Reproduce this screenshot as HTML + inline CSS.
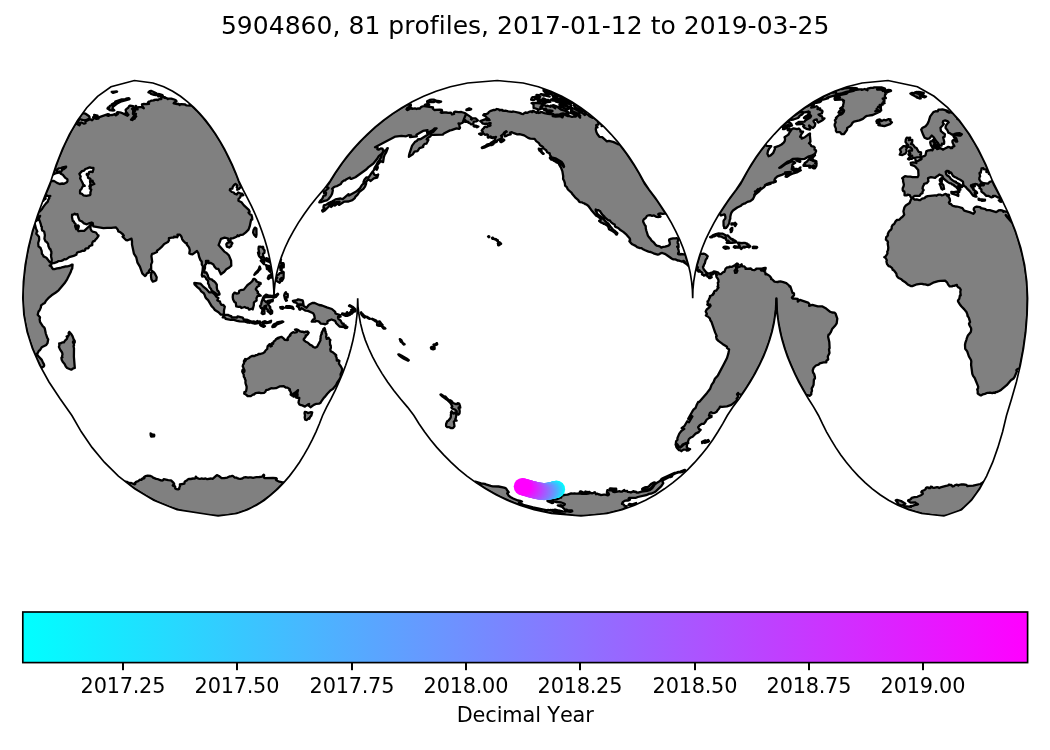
<!DOCTYPE html>
<html lang="en"><head><meta charset="utf-8"><title>5904860 float map</title>
<style>html,body{margin:0;padding:0;background:#fff}body{width:1050px;height:750px;overflow:hidden}svg{display:block;will-change:transform}text{font-family:"DejaVu Sans","Liberation Sans",sans-serif;fill:#000;font-variant-ligatures:none;font-feature-settings:"liga" 0,"clig" 0;font-kerning:none}</style></head><body>
<svg width="1050" height="750" viewBox="0 0 1050 750">
<defs><linearGradient id="cool" x1="0" y1="0" x2="1" y2="0"><stop offset="0" stop-color="#00ffff"/><stop offset="1" stop-color="#ff00ff"/></linearGradient>
<clipPath id="mapclip"><path d="M218.2,516.0L177.1,509.7L153.7,500.2L134.7,488.8L118.4,476.1L104.3,462.2L92.0,447.4L81.3,431.8L71.9,415.5L60.1,398.7L49.0,382.0L39.7,365.2L32.4,348.5L27.1,331.7L23.9,315.0L22.8,298.2L23.4,281.5L25.2,264.8L28.3,248.0L32.4,231.3L37.8,214.5L44.1,197.8L50.9,181.0L56.2,164.7L62.4,149.1L69.4,134.3L77.5,120.4L86.7,107.7L97.6,96.3L111.0,86.8L134.4,80.5L134.4,80.5L153.0,83.0L163.8,86.8L172.7,91.3L180.5,96.3L187.6,101.8L194.1,107.7L200.1,113.9L205.7,120.4L210.9,127.2L215.7,134.3L220.3,141.6L224.6,149.1L228.5,156.8L232.2,164.7L235.7,172.8L238.9,181.0L242.9,189.4L247.3,197.8L251.5,206.1L255.3,214.5L258.8,222.9L261.9,231.3L264.7,239.6L267.2,248.0L269.2,256.4L270.9,264.8L272.3,273.1L273.2,281.5L273.8,289.9L274.0,298.2L274.0,298.2L274.3,289.9L275.2,281.5L276.7,273.1L278.9,264.8L281.6,256.4L284.9,248.0L288.8,239.6L293.3,231.3L298.3,222.9L303.9,214.5L310.0,206.1L316.6,197.8L323.8,189.4L330.1,181.0L335.3,172.8L340.8,164.7L346.7,156.8L353.1,149.1L359.9,141.6L367.2,134.3L375.0,127.2L383.3,120.4L392.2,113.9L401.8,107.7L412.2,101.8L423.6,96.3L436.1,91.3L450.4,86.8L467.6,83.0L497.3,80.5L497.3,80.5L523.2,83.0L538.3,86.8L550.8,91.3L561.8,96.3L571.7,101.8L580.8,107.7L589.2,113.9L597.0,120.4L604.3,127.2L611.1,134.3L617.5,141.6L623.4,149.1L629.0,156.8L634.2,164.7L639.1,172.8L643.5,181.0L649.1,189.4L655.4,197.8L661.1,206.1L666.5,214.5L671.4,222.9L675.8,231.3L679.7,239.6L683.1,248.0L686.0,256.4L688.4,264.8L690.3,273.1L691.6,281.5L692.4,289.9L692.7,298.2L692.7,298.2L692.9,289.9L693.7,281.5L695.1,273.1L696.9,264.8L699.3,256.4L702.2,248.0L705.6,239.6L709.6,231.3L714.0,222.9L718.8,214.5L724.2,206.1L730.0,197.8L736.2,189.4L741.8,181.0L746.3,172.8L751.1,164.7L756.3,156.8L761.9,149.1L767.8,141.6L774.2,134.3L781.0,127.2L788.3,120.4L796.1,113.9L804.5,107.7L813.6,101.8L823.5,96.3L834.5,91.3L847.0,86.8L862.1,83.0L888.0,80.5L888.0,80.5L917.4,86.8L934.1,96.3L947.7,107.7L959.3,120.4L969.4,134.3L978.2,149.1L985.8,164.7L992.5,181.0L1001.0,197.8L1008.9,214.5L1015.5,231.3L1020.8,248.0L1024.6,264.8L1026.8,281.5L1027.6,298.2L1027.1,315.0L1025.8,331.7L1023.5,348.5L1020.4,365.2L1016.4,382.0L1011.6,398.7L1006.5,415.5L1002.6,431.8L997.9,447.4L992.7,462.2L986.6,476.1L979.7,488.8L971.5,500.2L961.5,509.7L943.9,516.0L943.9,516.0L921.6,513.5L908.7,509.7L898.0,505.2L888.6,500.2L880.1,494.7L872.3,488.8L865.1,482.6L858.4,476.1L852.1,469.3L846.3,462.2L840.8,454.9L835.7,447.4L831.0,439.7L826.5,431.8L822.4,423.7L818.5,415.5L813.7,407.1L808.4,398.7L803.4,390.4L798.8,382.0L794.7,373.6L790.9,365.2L787.5,356.9L784.6,348.5L782.1,340.1L780.1,331.7L778.5,323.4L777.3,315.0L776.6,306.6L776.4,298.2L776.4,298.2L776.1,306.6L775.3,315.0L774.0,323.4L772.1,331.7L769.7,340.1L766.8,348.5L763.4,356.9L759.5,365.2L755.1,373.6L750.2,382.0L744.9,390.4L739.1,398.7L732.9,407.1L727.3,415.5L722.8,423.7L717.9,431.8L712.8,439.7L707.2,447.4L701.2,454.9L694.9,462.2L688.0,469.3L680.8,476.1L672.9,482.6L664.5,488.8L655.5,494.7L645.5,500.2L634.6,505.2L622.1,509.7L607.0,513.5L581.0,516.0L581.0,516.0L551.4,513.5L534.1,509.7L519.8,505.2L507.3,500.2L496.0,494.7L485.6,488.8L476.0,482.6L467.0,476.1L458.7,469.3L450.9,462.2L443.7,454.9L436.8,447.4L430.5,439.7L424.5,431.8L419.0,423.7L413.9,415.5L407.5,407.1L400.4,398.7L393.8,390.4L387.6,382.0L382.1,373.6L377.0,365.2L372.6,356.9L368.7,348.5L365.3,340.1L362.6,331.7L360.5,323.4L359.0,315.0L358.0,306.6L357.7,298.2L357.7,298.2L357.5,306.6L357.0,315.0L356.0,323.4L354.7,331.7L353.0,340.1L350.9,348.5L348.5,356.9L345.7,365.2L342.5,373.6L339.0,382.0L335.2,390.4L331.1,398.7L326.6,407.1L322.6,415.5L319.4,423.7L316.0,431.8L312.3,439.7L308.3,447.4L304.0,454.9L299.5,462.2L294.6,469.3L289.4,476.1L283.8,482.6L277.8,488.8L271.3,494.7L264.3,500.2L256.4,505.2L247.5,509.7L236.7,513.5L218.2,516.0Z"/></clipPath></defs>
<rect width="1050" height="750" fill="#fff"/>
<text x="525.2" y="34.2" font-size="25" text-anchor="middle" letter-spacing="0.035">5904860, 81 profiles, 2017-01-12 to 2019-03-25</text>
<g clip-path="url(#mapclip)">
<path d="M35.1,225.3L35.9,228.4L37.3,231.5L36.7,232.0L36.3,233.8L39.0,236.8L39.2,239.6L38.2,243.0L38.5,246.3L40.6,248.0L41.7,251.2L41.9,253.8L43.1,255.2L43.5,256.4L46.4,257.8L49.7,262.0L50.9,262.8L51.5,263.7L51.3,264.8L49.6,265.5L51.6,266.8L52.0,267.9L53.1,269.1L54.5,269.1L57.1,268.4L60.1,268.0L62.6,267.2L64.0,267.0L65.0,266.5L67.5,266.3L70.2,265.6L71.6,264.7L72.6,264.7L72.2,268.6L71.5,269.6L70.5,272.6L67.1,279.3L64.5,283.3L58.6,290.3L55.8,292.5L51.6,295.3L48.3,298.2L22.8,298.2L23.0,288.5L23.6,278.8L24.6,269.1L26.1,259.4L27.6,251.0L29.8,241.3L32.0,233.0L34.8,223.3ZM240.0,187.6L239.1,188.9L237.2,189.7L237.7,188.4L236.7,187.3L237.3,185.4L235.5,184.0L234.1,185.0L232.7,186.9L232.3,188.7L230.2,188.8L229.8,190.1L231.8,192.0L233.8,192.5L234.5,193.7L236.7,194.5L238.2,192.5L240.7,193.6L242.2,193.7L243.3,195.2L240.5,196.0L240.2,197.5L238.6,198.9L238.4,200.8L241.5,202.3L243.7,205.1L248.8,209.8L249.7,211.9L248.5,212.6L249.7,214.1L251.5,215.0L252.1,217.3L252.3,219.5L251.1,219.7L249.7,226.4L248.5,229.7L245.8,232.3L242.9,234.7L240.1,235.0L238.8,236.2L237.7,235.3L236.6,236.7L233.3,238.1L230.7,238.5L230.5,241.5L229.1,241.6L227.9,239.6L228.3,238.5L224.6,237.6L221.0,238.8L218.6,245.1L224.3,251.6L227.0,253.4L229.0,255.6L231.1,260.8L231.3,265.7L229.3,267.5L226.3,269.3L224.3,271.7L220.9,274.2L218.4,269.0L216.1,268.6L214.8,267.1L213.1,264.2L210.5,262.9L208.2,263.0L208.4,260.8L206.0,260.8L206.1,263.9L205.0,265.1L205.0,268.0L204.3,270.3L204.6,272.5L206.4,272.5L207.7,275.1L208.4,277.5L210.0,279.1L211.7,279.4L213.2,280.9L213.9,281.1L215.6,282.8L216.8,284.7L216.8,287.8L217.4,290.5L218.4,291.2L219.5,293.7L219.5,294.6L217.5,294.8L211.5,290.5L211.1,289.1L209.5,287.3L209.0,284.9L208.0,283.4L208.2,281.4L207.5,280.2L206.3,279.1L205.8,277.8L204.2,276.2L202.2,276.5L201.8,274.9L202.6,270.5L202.9,266.3L201.8,264.7L201.7,261.6L200.5,260.2L199.1,256.8L198.4,253.3L197.0,251.0L192.5,254.4L191.0,254.2L189.3,253.5L189.8,250.0L189.0,247.4L186.6,244.2L186.8,243.2L185.2,242.8L183.1,240.6L182.1,239.1L181.8,237.7L181.2,236.3L179.9,234.7L177.5,234.6L177.9,235.8L177.2,237.3L176.1,236.7L175.8,237.2L174.0,236.7L173.7,237.7L171.9,237.7L168.9,238.2L169.0,240.4L167.9,242.0L164.2,243.9L161.4,247.2L159.5,248.9L157.0,250.7L157.0,252.0L153.3,253.7L152.1,253.9L151.4,256.0L152.2,261.9L151.1,264.6L151.2,269.3L149.8,269.5L148.6,271.6L149.4,272.5L146.9,273.3L146.0,275.2L144.9,276.0L142.3,273.4L139.9,266.7L137.5,262.7L136.3,257.4L133.9,253.6L132.0,244.6L132.0,241.3L131.5,238.6L127.7,240.3L125.9,240.0L122.6,236.6L123.8,235.6L123.1,234.5L120.2,232.1L118.3,231.4L117.7,229.4L115.8,227.3L111.2,227.8L107.1,227.9L103.5,228.2L93.3,226.4L92.7,223.0L91.6,222.5L89.6,223.0L86.9,224.3L84.0,223.4L81.8,221.3L79.6,220.5L78.4,217.8L77.4,214.1L76.0,214.5L74.7,213.6L73.5,214.7L72.1,214.6L72.0,217.3L72.8,221.0L73.9,221.6L74.1,222.6L75.6,223.8L75.5,224.9L75.1,225.8L75.3,226.8L76.3,229.2L76.5,227.1L77.4,225.7L78.2,225.4L78.8,226.2L78.5,227.9L77.7,229.5L78.5,231.2L80.5,230.8L84.2,230.9L91.0,224.6L91.3,224.8L90.5,226.5L90.5,228.7L91.4,230.6L92.7,231.6L96.0,232.5L97.6,235.0L98.5,235.4L98.4,236.0L96.8,238.4L95.7,239.3L94.5,241.2L93.3,241.1L92.8,241.8L92.2,243.2L92.3,245.0L92.0,245.4L90.8,245.4L89.1,246.4L88.7,247.8L88.0,248.3L86.4,248.3L85.3,249.0L85.2,250.2L83.8,250.9L82.4,250.7L80.5,251.6L79.2,251.8L77.2,252.5L76.6,253.8L76.4,254.7L73.6,255.9L69.2,257.2L66.5,259.2L65.3,259.3L64.5,259.1L62.8,260.3L61.1,260.8L58.1,261.2L57.4,261.9L53.9,263.1L52.0,263.0L51.5,261.4L51.8,259.8L51.2,256.9L51.0,254.4L51.4,253.8L51.3,251.4L50.7,250.6L50.6,249.5L49.4,248.5L48.9,247.3L48.4,246.1L48.1,243.9L46.7,242.0L45.6,241.5L44.4,238.8L44.9,235.2L44.3,232.1L43.4,231.0L42.2,230.5L41.8,228.9L41.8,226.8L41.2,226.2L40.8,224.1L39.3,219.9L38.1,219.9L40.1,215.9L39.0,217.0L37.8,219.1L36.7,220.6L36.0,221.1L35.7,220.6L38.7,211.8L40.2,211.1L42.2,208.7L43.5,206.6L45.8,203.6L47.8,201.6L48.4,199.4L49.3,198.3L49.0,197.0L50.3,196.0L48.8,196.2L47.2,195.5L45.0,197.2L44.3,197.2L49.6,185.0L50.9,181.0L53.9,180.9L57.0,182.9L59.7,184.0L62.3,183.5L64.0,183.8L66.9,182.3L67.5,181.1L67.4,179.2L65.4,177.9L62.8,174.8L60.8,173.7L59.6,172.1L61.2,171.7L62.7,168.4L63.5,169.4L66.0,167.3L66.1,166.7L62.6,167.3L61.0,168.2L59.0,168.3L57.0,169.4L56.6,171.0L57.3,171.7L59.5,171.5L58.8,172.5L56.4,173.0L53.1,174.5L52.9,174.4L58.6,158.4L64.5,144.3L71.2,131.0L78.0,119.6L78.8,120.6L77.0,124.0L79.3,125.3L80.1,124.2L79.8,123.2L81.2,122.3L84.0,123.7L85.5,123.2L85.4,121.5L89.9,119.3L91.1,119.5L92.1,120.2L93.6,118.7L93.1,117.4L94.4,116.1L94.2,114.8L97.5,115.5L97.7,116.7L95.9,116.9L95.3,118.2L96.1,118.9L98.4,118.5L99.4,117.1L108.0,114.2L109.0,114.3L107.2,115.6L108.8,115.8L110.0,115.1L112.5,115.0L114.7,114.1L115.9,115.4L117.8,114.0L116.7,112.8L117.5,112.1L121.2,112.7L122.9,113.4L127.4,115.8L128.4,114.7L127.1,113.6L127.2,113.1L125.6,112.9L126.2,111.9L125.7,110.3L125.7,109.6L128.2,107.8L129.2,106.0L130.1,105.6L133.1,106.1L133.3,107.2L132.1,108.9L132.9,109.5L133.2,111.0L132.9,113.8L134.3,115.1L133.7,116.6L131.0,119.7L132.6,120.0L133.1,119.2L134.7,118.7L135.0,117.6L136.2,116.5L135.4,115.3L136.0,113.9L134.6,113.7L134.2,112.5L135.3,110.5L133.7,108.8L135.8,107.4L135.5,106.0L136.1,106.0L136.7,107.1L136.3,109.0L137.6,109.4L137.0,107.9L139.0,107.1L141.4,107.0L143.8,108.2L142.5,106.5L142.0,104.4L143.9,104.0L146.6,104.1L149.0,103.8L147.8,102.8L148.6,101.6L149.8,101.5L151.5,100.6L154.1,100.3L154.2,99.8L156.8,99.6L157.9,100.1L159.5,99.1L161.4,99.1L161.1,98.3L161.5,97.6L163.1,96.8L165.2,97.4L164.3,97.8L166.7,98.1L167.8,99.0L168.3,98.6L171.2,98.6L174.3,99.5L175.8,100.2L176.5,101.2L174.0,102.8L173.7,103.3L177.3,104.1L178.0,103.7L179.7,105.0L179.7,104.5L181.2,104.2L185.1,104.5L186.3,105.4L191.4,105.7L189.9,104.2L190.5,104.3L196.7,110.3L203.5,117.7L209.6,125.5L215.4,133.7L220.7,142.2L226.2,152.2L232.5,165.3L236.5,174.7L240.1,184.3L241.6,187.1ZM84.1,170.6L82.0,171.1L79.4,173.9L80.7,176.5L80.1,178.3L82.6,183.0L83.3,185.0L84.2,185.1L84.7,185.9L82.9,186.1L81.3,189.3L80.3,189.9L80.0,191.3L80.1,193.4L82.1,193.9L83.3,195.3L86.4,195.8L90.0,195.1L90.4,194.4L90.4,192.4L91.3,189.5L89.8,188.6L90.8,186.7L89.4,186.5L90.4,184.1L92.3,184.8L94.3,184.0L93.0,182.3L92.6,180.7L90.9,181.4L90.3,183.4L90.0,181.0L90.6,179.8L90.4,178.9L88.1,177.9L87.7,175.4L86.7,174.8L86.8,173.9L88.7,174.1L89.1,172.1L90.9,171.7L92.6,172.1L93.4,169.5L93.4,167.8L91.4,167.9L89.8,167.3L87.3,168.4L85.3,169.0ZM82.4,113.2L85.6,113.7L89.1,116.2L89.6,117.2L88.9,118.7L86.7,119.8L84.0,120.4L78.5,118.8ZM156.3,280.2L155.2,280.9L152.8,281.6L151.4,279.4L150.9,275.4L152.0,270.8L154.0,272.4L155.3,274.4L156.7,277.3ZM256.5,234.6L256.1,236.9L254.0,234.6L253.1,232.5L253.6,229.8L254.9,227.6L256.4,228.5ZM229.2,247.5L226.8,246.6L226.3,244.2L227.3,242.9L230.0,242.1L231.5,242.2L232.4,243.3L231.5,244.5L231.2,246.1ZM115.4,92.2L113.0,92.9L112.5,92.5L113.4,92.0L111.7,91.9L114.7,91.6L114.5,92.0L116.2,91.4L117.1,91.7ZM128.8,99.5L121.6,101.3L117.7,103.1L112.9,106.9L112.5,108.6L114.3,110.3L113.4,110.5L109.5,110.2L109.5,109.3L107.5,108.7L107.9,107.6L109.3,107.2L109.7,106.1L112.7,104.4L111.8,104.2L115.2,102.5L115.2,101.6L121.8,99.4L125.2,99.1L127.1,98.4L129.0,98.2L129.6,98.9ZM158.1,94.2L158.6,94.0L159.4,94.1L162.5,95.1L162.8,95.8L158.2,96.4ZM153.2,91.7L156.4,93.2L157.4,94.8L155.7,95.0L152.9,94.5L151.0,93.8L149.7,92.7L148.4,92.3L149.7,91.2L151.1,90.9ZM45.6,198.7L43.6,199.9L43.5,200.6L42.9,200.9L43.4,199.5ZM260.7,295.7L257.4,296.1L256.5,298.2L232.9,298.2L232.7,297.1L233.0,294.5L234.6,292.6L236.7,293.6L238.8,293.1L239.3,290.7L240.5,290.2L243.8,289.6L247.0,285.6L248.0,284.6L250.3,283.0L252.3,281.1L253.5,278.9L254.6,278.9L256.2,280.3L256.4,281.5L260.7,283.1L260.6,284.2L258.7,284.4L259.3,285.7L257.3,286.7L255.8,289.2L258.0,291.9L257.6,293.1ZM205.6,297.7L204.8,295.3L203.8,293.2L201.2,291.4L199.7,289.0L197.6,287.4L194.6,284.4L194.3,283.0L200.4,283.6L203.0,286.3L206.7,289.4L209.4,292.4L212.3,292.4L214.7,294.3L216.3,296.7L218.4,298.0L218.3,298.2L206.2,298.2ZM268.2,295.4L271.7,295.8L274.0,295.7L274.0,297.5L271.1,297.0L266.5,297.2L264.0,297.6L263.9,298.2L262.9,298.2L263.6,296.7L266.0,294.6ZM262.2,247.4L262.8,246.7L263.3,247.4L263.1,248.5L264.6,250.5L264.4,252.9L263.0,253.8L263.1,256.0L264.2,258.3L265.7,258.6L266.8,258.2L269.9,259.5L270.6,262.7L269.2,261.9L267.9,260.4L267.4,261.4L265.3,259.8L263.0,260.2L261.5,259.6L261.4,258.4L262.1,257.7L261.1,257.1L261.0,258.1L259.3,256.5L258.7,255.2L258.0,252.6L259.3,253.5L258.5,249.1L258.8,246.6L260.4,246.6ZM272.3,276.4L271.6,277.5L270.3,277.4L268.4,279.0L267.8,278.2L268.7,275.8L270.3,275.0L271.7,274.0L272.5,274.9L272.7,276.7ZM258.9,270.3L257.7,272.2L254.3,274.9L255.5,272.9L257.3,271.2L258.6,269.3L259.7,266.5L260.5,268.8ZM264.0,264.2L260.8,260.7L263.2,260.8L264.3,261.8ZM267.7,265.9L269.4,265.9L269.6,267.1L268.5,268.3L266.9,269.1L266.6,266.4L265.9,265.1ZM270.6,269.6L270.3,272.0L268.7,270.4L269.3,269.6L269.3,267.9L270.8,267.7ZM687.8,265.3L686.9,264.4L683.9,262.2L684.1,261.8L684.6,262.2L684.8,262.0L684.1,261.1L683.2,260.9L683.1,261.5L681.5,261.5L679.1,260.7L677.6,260.5L676.6,259.9L675.1,259.4L673.4,259.4L672.0,258.8L666.3,254.7L664.7,253.8L662.3,253.0L660.8,253.2L659.0,254.3L657.7,254.6L653.5,253.3L650.6,252.0L648.5,251.6L645.1,250.3L642.5,249.0L641.6,248.2L640.0,248.1L637.1,247.2L635.6,245.9L632.3,244.3L630.5,242.6L629.4,241.2L630.2,240.9L629.7,240.1L630.1,239.4L629.8,238.5L626.5,234.7L623.3,231.9L620.0,229.7L618.2,228.0L615.6,226.9L614.9,226.2L614.7,224.5L613.1,223.8L611.2,222.4L609.8,220.5L608.4,220.3L604.8,217.4L604.4,216.6L602.3,214.5L600.6,212.3L600.2,211.3L598.1,210.1L597.3,210.3L595.7,209.5L595.7,210.6L597.6,214.1L602.5,218.0L603.1,219.0L603.5,218.9L604.7,220.7L606.6,222.4L608.6,223.8L610.4,226.4L612.6,228.9L613.3,230.4L614.5,230.5L617.3,233.0L617.4,233.5L616.7,234.6L616.2,234.6L615.0,232.9L612.8,231.3L609.0,229.2L608.4,227.2L607.5,225.7L603.9,223.5L603.7,223.9L602.8,223.2L601.1,222.5L599.1,220.9L599.2,220.7L600.3,220.8L600.8,219.8L600.5,218.5L597.9,216.5L596.2,215.7L591.2,209.9L588.4,206.0L586.3,204.4L585.1,204.1L584.6,203.3L583.2,203.1L582.1,202.4L579.9,202.1L579.1,201.6L578.3,200.1L575.1,197.3L571.9,193.4L571.7,192.8L567.9,189.5L566.8,187.2L565.1,185.7L564.9,183.4L564.2,181.0L563.1,178.9L563.2,176.3L562.4,171.4L561.1,167.8L558.9,164.2L559.0,163.7L562.1,164.6L563.8,167.1L564.1,166.4L563.2,164.2L561.8,162.1L555.4,158.3L551.6,157.3L549.9,154.9L549.7,153.4L547.1,152.3L546.2,150.2L543.5,148.4L543.1,147.1L541.8,146.1L540.0,145.3L538.9,143.1L536.2,141.1L534.6,138.8L530.3,138.6L528.1,137.9L524.2,135.4L519.5,134.1L517.3,134.3L513.9,133.2L511.9,132.2L510.2,132.7L510.7,134.3L508.0,135.0L506.6,135.8L504.8,136.3L504.5,134.9L505.0,132.5L506.7,131.8L506.2,131.2L504.3,132.5L503.2,134.1L501.0,135.8L502.2,137.0L500.7,138.7L497.2,140.5L496.8,141.6L494.0,142.9L493.5,144.1L491.4,145.1L490.2,145.0L485.1,147.3L482.0,148.1L481.8,147.6L485.6,145.7L487.6,144.3L489.8,144.0L490.7,143.0L493.1,141.5L494.8,140.2L495.1,138.3L496.0,136.9L494.1,137.6L493.5,137.2L492.6,138.1L491.5,136.9L491.1,137.7L490.5,136.5L488.8,137.5L487.8,137.5L487.7,136.0L488.1,135.2L487.1,134.3L484.9,134.8L483.7,133.6L482.6,133.1L482.8,131.7L481.7,130.7L482.5,129.4L483.9,128.1L484.6,126.9L485.9,126.7L486.9,127.1L488.2,126.0L489.3,126.1L490.5,125.4L490.3,124.4L489.5,124.0L490.6,123.1L489.7,123.1L488.1,123.6L487.6,124.1L486.5,123.6L484.4,123.9L482.3,123.3L481.8,122.4L480.3,121.1L485.7,119.1L486.9,119.1L486.6,120.2L489.6,120.1L488.6,118.8L486.9,117.9L486.1,116.8L485.0,115.9L483.2,115.2L484.2,114.1L486.5,114.0L488.3,113.1L488.7,112.1L490.2,111.1L493.8,109.9L495.0,110.1L496.9,109.0L498.7,109.4L499.7,110.3L500.2,109.9L502.3,110.0L502.3,110.5L504.2,110.9L505.5,110.7L508.2,111.3L511.7,111.8L513.3,111.5L519.5,112.9L521.9,113.9L523.3,114.1L524.1,113.2L525.4,112.5L527.5,112.8L529.0,111.9L530.8,111.4L532.1,112.2L532.8,111.7L532.6,110.8L533.6,111.0L536.8,112.9L537.6,111.4L538.8,113.0L540.2,112.7L540.2,112.1L541.9,112.2L544.4,113.1L548.0,113.9L550.1,114.2L551.3,114.1L553.9,115.2L552.8,116.2L555.6,116.7L559.0,116.4L559.9,116.1L562.4,117.4L563.0,116.3L560.8,115.3L561.1,114.6L563.5,114.3L567.4,116.0L568.7,115.8L572.1,116.8L573.8,116.4L575.9,116.5L574.4,115.2L575.2,114.8L578.0,115.5L580.1,117.6L579.2,115.8L580.3,115.9L578.6,113.7L573.2,111.6L570.7,109.3L570.3,107.8L572.3,108.1L574.7,109.0L579.3,111.4L579.4,112.4L582.3,112.8L584.9,115.0L584.6,113.3L587.9,114.7L589.4,116.3L592.4,117.8L591.9,116.0L597.3,120.6L598.5,123.1L598.4,124.7L596.4,124.8L596.2,125.8L597.5,127.3L596.0,127.6L595.8,129.5L596.4,132.1L597.3,134.0L599.4,136.8L602.2,137.2L606.9,141.4L609.0,140.9L613.0,141.9L615.5,142.9L617.7,144.1L620.0,144.7L626.7,153.5L633.7,164.0L639.4,173.4L645.2,184.4L656.7,199.7L665.9,213.6L665.4,213.4L662.9,213.8L660.6,213.5L658.9,213.6L658.2,214.1L659.0,214.8L659.6,215.9L660.5,216.5L660.2,216.9L659.1,216.4L658.5,217.0L656.6,216.9L654.0,215.4L652.1,215.8L650.0,215.1L648.6,215.3L646.9,216.0L645.7,218.0L643.9,219.2L643.2,220.6L643.2,221.8L644.8,225.1L645.7,226.0L645.8,228.5L646.3,230.5L647.9,235.6L648.9,237.1L650.2,238.5L651.6,240.6L654.0,242.7L655.2,244.3L656.7,245.7L659.8,246.4L661.3,247.6L663.3,246.8L665.2,246.6L668.5,245.6L669.8,244.4L669.8,242.8L669.1,240.4L669.2,239.6L670.7,238.9L673.1,238.3L675.5,238.4L676.9,238.1L677.8,238.7L678.3,240.1L677.6,241.7L677.7,243.4L678.4,243.9L678.6,247.3L677.7,246.6L677.1,246.6L677.3,247.0L677.8,247.0L678.1,247.8L678.1,249.0L678.4,249.4L678.9,252.1L678.7,252.8L678.2,252.9L678.0,253.9L679.1,254.4L679.1,254.0L680.4,254.5L680.8,254.0L683.6,254.3L685.2,254.0L688.7,266.0ZM565.8,99.1L563.8,99.0L562.1,98.2L563.1,97.8L560.3,96.5L560.6,96.3L562.7,96.7L567.5,99.3ZM561.1,96.0L559.0,95.6L558.3,95.0L558.7,94.8L561.3,96.1ZM555.4,93.3L553.1,92.5L553.7,92.5L555.8,93.4ZM551.6,92.0L549.0,91.5L543.5,89.9L543.8,89.6L545.2,89.3L545.0,89.0L552.6,92.0ZM584.7,111.2L582.3,110.9L580.3,110.2L580.3,109.2L578.6,109.2L575.4,107.2L573.8,105.4L573.8,104.6L575.6,104.2L586.1,111.5ZM545.8,106.4L547.8,105.7L550.4,106.8L550.7,105.7L552.4,106.4L555.3,108.4L555.1,107.5L552.2,105.5L552.9,105.2L554.4,105.5L556.5,106.3L561.2,109.7L567.7,111.7L568.5,112.6L566.5,112.8L568.2,113.6L568.5,114.4L563.0,113.5L561.6,113.6L559.7,114.3L554.4,114.9L553.0,113.9L550.7,113.3L549.7,113.5L546.9,111.8L549.3,111.3L551.2,111.4L552.5,111.0L549.7,110.5L545.3,110.6L544.1,109.9L546.3,109.1L544.4,109.1L541.9,108.5L541.8,107.0L541.9,106.2L544.0,105.0L545.5,105.4ZM535.1,102.8L536.9,103.2L539.8,103.3L543.3,104.7L542.4,105.2L540.7,106.6L540.3,108.0L540.9,108.9L538.3,109.9L537.1,109.0L533.6,107.9L533.5,104.3L531.6,103.1ZM546.9,100.2L547.5,99.9L548.6,100.0L549.9,100.9L550.4,101.8L547.1,102.1L545.3,102.9L543.7,102.9L542.9,102.3L544.2,101.5L539.7,101.7L537.9,101.4L537.5,99.5L537.9,99.0L541.4,99.6L544.5,100.7L546.5,100.9L542.9,99.1L543.0,98.5L544.3,98.7ZM554.4,98.8L556.1,99.4L557.6,100.4L559.1,101.8L557.6,102.0L556.0,101.7L554.6,100.6L553.1,100.7L551.1,99.3L552.2,99.3L552.8,98.7L553.7,99.9ZM536.2,98.3L536.1,98.9L535.3,99.0L534.2,99.8L532.8,100.1L531.1,99.7L531.6,98.3L532.4,97.2L533.9,97.2L534.9,96.9ZM542.8,94.3L546.1,94.9L549.7,96.5L545.5,95.7L543.4,95.6L543.5,95.1L541.8,94.7L540.7,94.1ZM571.2,107.6L569.7,107.5L566.8,105.8L565.5,104.8L565.0,104.0L565.3,103.4L567.7,103.5L570.5,104.0L571.3,105.7L570.5,106.1ZM561.5,104.4L563.1,104.2L564.2,104.7L564.3,105.7L567.1,106.5L569.2,108.3L568.1,109.1L566.7,109.0L560.3,106.6L559.6,106.0L562.2,106.2L559.4,104.9L559.6,104.0ZM564.5,102.6L562.7,102.4L560.7,101.9L560.0,101.1L560.8,100.6L564.0,101.8ZM558.8,98.5L560.7,98.5L562.6,99.1L563.5,99.8L566.7,100.6L570.1,100.8L573.6,102.9L571.6,102.9L565.6,102.1L562.1,100.1L559.8,99.3L557.4,99.1L555.4,98.5L554.6,97.8L556.7,97.9ZM554.8,96.6L556.3,97.1L554.0,97.1L552.9,96.6ZM556.6,93.8L557.4,94.1L557.3,94.5L558.3,95.8L556.9,95.9L554.6,95.7L552.4,95.0L551.2,94.4L551.0,93.9L549.5,93.9L545.5,92.6L544.2,91.4L544.7,91.3L543.6,90.9L545.2,90.8L548.1,91.7L552.2,92.4ZM601.6,126.0L601.7,124.8L600.4,123.5L602.9,125.8ZM571.0,112.4L570.9,111.5L574.1,112.4L576.6,113.6L576.6,114.4L574.1,113.7L573.3,114.0L570.5,113.0ZM552.1,158.0L555.2,158.6L557.4,160.8L559.7,161.9L560.9,163.4L560.1,163.7L556.5,162.5L555.7,161.6L553.7,160.7L553.1,159.9L551.1,159.5L549.9,158.0L549.9,157.4ZM539.7,149.0L541.4,148.8L541.6,151.7L543.7,153.8L543.0,153.8L541.6,152.6L540.6,151.4L539.5,150.6L538.9,149.5L538.8,148.7ZM501.2,142.2L500.3,141.6L500.0,140.4L502.4,139.2L503.5,139.4L504.3,140.1L502.8,141.3ZM498.8,245.4L498.1,245.1L498.2,244.3L497.8,243.3L498.3,242.5L498.2,242.0L498.3,241.7L500.0,242.5L501.1,243.8ZM496.9,240.8L496.1,240.0L496.4,239.6L497.9,240.3L497.7,240.6ZM493.5,238.9L492.4,238.8L492.0,238.0L492.7,237.6L493.6,238.7ZM489.0,237.2L488.1,236.6L488.6,236.2L489.2,236.3L489.3,236.9ZM495.9,239.4L494.5,239.4L494.7,239.0L496.0,239.1ZM474.9,125.8L475.8,125.6L477.0,126.2L478.4,126.5L477.0,127.3L475.4,126.3L474.1,126.5L473.7,126.3L474.0,125.4ZM481.0,134.9L479.1,133.8L480.8,133.4L482.1,133.6L482.1,134.5ZM540.1,96.3L540.4,96.8L539.3,97.3L537.2,96.8L537.3,96.2L538.4,96.0ZM538.8,95.2L538.2,95.6L536.7,95.6L536.4,95.3L536.6,94.8ZM409.0,104.6L410.8,104.5L410.9,105.6L409.4,106.9L407.4,107.7L406.5,109.3L407.2,110.1L411.5,108.0L412.1,108.9L415.0,108.3L416.5,109.0L418.1,108.4L419.7,108.7L421.3,106.8L424.0,106.0L433.0,107.3L432.7,108.4L434.3,110.0L439.7,109.6L441.8,110.0L442.1,110.8L440.7,112.4L441.8,112.9L443.9,112.5L446.2,112.5L448.3,112.9L450.9,112.6L452.0,114.5L454.1,113.9L453.8,112.5L455.0,111.6L458.7,112.1L461.4,112.0L464.7,113.0L468.7,115.6L471.5,117.7L471.0,119.1L471.7,119.6L471.9,118.1L475.6,118.4L477.8,120.4L476.2,121.4L473.8,121.6L473.2,123.9L472.5,124.3L471.1,124.3L470.2,123.5L468.4,122.8L468.4,121.8L467.1,121.5L465.3,121.8L464.8,121.0L465.4,120.2L463.5,120.7L463.8,121.7L462.6,122.7L460.3,123.7L458.5,123.5L459.3,124.7L459.5,126.6L460.0,127.3L459.9,128.2L459.2,128.8L456.5,128.3L451.5,130.1L450.0,130.4L443.9,133.5L442.8,134.6L433.8,134.9L431.7,134.6L430.4,136.2L427.2,138.5L426.7,139.5L428.4,140.0L426.4,143.7L424.8,143.8L423.0,145.8L423.3,146.9L419.5,148.2L417.5,151.1L414.5,151.7L412.7,154.4L408.9,156.8L409.1,155.0L409.6,153.1L412.1,145.6L414.8,142.1L417.1,140.7L417.8,139.5L420.8,139.0L429.6,133.5L433.6,131.6L436.6,128.3L434.7,128.4L432.6,130.4L427.1,133.0L427.5,130.1L423.0,130.9L416.4,134.8L416.8,136.3L410.0,137.2L411.2,135.5L409.0,135.1L406.1,136.3L401.4,135.9L395.4,136.6L375.0,147.2L377.6,147.6L377.3,149.1L378.6,149.7L380.7,148.5L382.5,148.6L383.3,151.4L381.9,153.6L378.8,156.2L376.8,159.3L373.4,163.5L368.2,167.4L366.5,169.2L355.4,177.2L351.8,178.8L350.5,178.8L349.9,177.5L346.0,179.5L345.2,180.4L344.5,180.3L343.0,181.2L341.9,182.1L340.9,184.1L337.1,186.1L335.3,186.5L333.7,187.3L332.1,188.8L332.6,189.3L332.8,190.5L332.1,193.8L331.2,195.6L328.8,198.8L326.8,200.3L324.3,200.9L321.6,202.0L319.3,202.3L320.2,200.8L322.3,198.7L323.6,195.7L325.6,195.3L326.1,192.9L325.5,192.4L324.8,192.9L323.9,193.1L324.3,192.6L323.7,191.9L326.2,190.3L326.4,189.8L328.3,188.3L328.5,187.9L327.2,186.8L325.8,187.1L328.2,184.3L334.9,173.3L342.3,162.6L349.4,153.5L357.1,144.6L364.1,137.3L370.4,131.3L377.0,125.5L384.0,119.9L392.9,113.4L400.9,108.2L407.6,104.3ZM337.3,203.9L334.9,205.6L334.5,204.7L332.9,205.3L331.1,207.0L330.2,206.2L331.1,204.9L333.5,203.2L334.6,203.5L336.3,202.3L337.7,202.9ZM355.3,196.8L354.8,198.2L352.4,200.2L348.6,201.5L344.5,201.6L339.0,204.9L338.2,203.8L339.5,201.7L335.1,202.3L331.4,203.6L328.7,203.7L329.6,205.7L324.8,210.5L322.6,211.6L322.1,210.6L324.4,208.0L323.4,207.2L323.9,205.3L326.6,204.5L329.1,202.7L332.5,201.3L335.5,199.4L340.6,198.5L342.7,199.1L348.5,194.1L349.0,195.5L356.2,191.6L360.0,188.2L361.9,185.0L363.7,183.3L366.2,182.8L366.0,184.0L365.0,186.6L363.4,188.9L359.5,191.7L357.6,194.6ZM376.2,175.6L378.2,174.5L377.2,177.6L373.8,178.3L370.7,181.0L368.3,179.2L365.8,182.2L363.4,182.2L364.5,179.5L366.5,177.4L368.8,177.2L371.3,173.4L372.9,171.3L373.9,174.1L375.0,175.1ZM383.1,162.1L380.7,161.2L377.4,165.1L377.8,167.8L376.8,169.7L376.2,168.1L373.8,170.2L374.6,167.9L376.2,165.3L377.6,162.4L379.2,160.4L381.3,156.9L381.8,154.4L384.2,150.9L386.7,149.7L386.8,148.5L387.8,148.2L386.2,152.3L384.6,154.8L383.8,157.5ZM434.2,99.7L436.4,100.7L433.6,102.1L429.7,102.1L427.3,102.5L427.1,101.3L429.7,100.0L431.7,99.6ZM439.1,101.1L441.1,101.6L438.9,102.4L437.4,102.2L436.5,101.5L437.6,100.8ZM429.2,104.7L428.6,105.2L424.8,104.9L426.9,104.1L428.6,104.0ZM466.5,109.5L468.7,108.5L469.7,108.5L471.2,109.1L471.0,109.4L469.5,109.9L466.4,110.1ZM274.9,295.7L277.8,293.7L278.2,294.3L275.9,297.0L274.0,297.5L274.0,295.7ZM287.6,297.5L286.2,297.2L285.9,298.2L284.8,298.2L284.2,295.4L284.9,293.2L285.8,292.2L285.9,293.7L287.6,294.0L287.8,295.1ZM281.0,259.8L280.2,261.3L280.9,262.0L280.2,263.2L279.5,262.7L280.5,259.5ZM283.6,276.6L283.5,278.2L282.1,280.7L281.6,277.9L280.0,279.3L280.6,281.4L279.6,282.7L276.6,281.1L276.1,279.0L277.2,277.7L276.0,276.7L276.4,274.9L276.6,275.3L278.8,274.5L279.5,273.2L281.5,273.2L281.8,271.0L283.7,272.3ZM283.8,264.3L283.7,267.4L281.8,266.7L281.6,267.6L281.8,269.3L280.4,270.0L280.8,268.0L280.0,267.9L280.0,266.2L281.5,266.4L281.8,265.3L280.8,263.2L283.4,263.2ZM716.6,277.3L716.2,275.8L717.0,275.0L716.3,274.8L716.0,273.9L714.7,273.1L713.5,273.3L712.8,274.3L711.5,275.0L710.9,275.1L710.6,275.7L711.7,277.2L710.4,278.0L709.1,278.1L708.8,276.4L708.4,276.9L707.5,276.7L707.1,275.6L705.4,275.1L704.2,275.1L704.0,275.7L703.7,275.3L702.4,274.7L701.9,274.1L702.3,273.6L702.3,273.0L701.7,272.3L699.8,271.4L699.8,270.6L699.2,270.1L699.2,270.9L698.5,271.6L698.0,270.8L697.2,270.5L696.9,270.0L697.2,269.1L697.7,268.2L697.0,267.8L697.8,267.3L696.6,266.0L700.1,254.0L700.9,253.6L702.3,253.9L703.6,253.6L705.1,254.0L706.4,255.2L707.2,255.6L707.7,256.4L707.1,257.3L707.0,258.3L706.1,259.3L705.5,260.4L704.8,263.6L704.3,263.9L703.8,265.1L703.8,265.8L703.0,266.5L703.0,267.3L703.7,269.2L706.4,272.5L706.2,273.1L707.3,273.3L707.6,273.0L708.2,273.7L709.6,273.5L710.9,272.8L712.7,272.3L713.8,271.4L715.3,271.6L715.1,271.9L716.6,272.0L717.8,272.4L719.5,274.1L720.9,274.1L723.2,272.2L724.4,271.9L725.6,268.6L727.4,267.3L729.1,267.3L729.4,266.7L731.6,266.9L735.2,264.9L736.8,263.5L737.7,263.7L738.3,264.4L737.3,266.0L735.7,266.4L736.3,267.6L736.0,269.1L734.6,270.7L735.2,272.9L736.5,272.7L737.4,270.7L736.7,269.8L736.9,267.6L740.5,266.5L740.4,265.2L741.6,264.3L742.2,266.3L744.1,266.3L745.6,267.9L745.5,268.8L750.9,268.5L752.3,269.8L754.4,270.1L756.0,269.3L756.2,268.6L762.9,268.3L760.5,269.2L761.2,270.5L763.4,270.7L765.3,272.1L765.5,274.3L766.9,274.2L769.6,275.9L771.1,277.7L771.1,279.2L772.1,279.2L774.5,281.6L777.8,282.1L778.1,281.6L780.4,281.4L783.3,282.2L786.3,283.1L789.1,285.5L789.5,286.6L790.4,286.5L792.5,292.9L794.0,293.4L794.0,295.3L791.9,297.6L792.5,298.2L709.5,298.2L710.1,297.2L709.9,296.1L711.4,295.5L713.3,294.4L713.0,293.5L714.0,293.3L714.0,291.9L714.7,290.9L716.1,290.7L718.5,287.5L717.5,286.8L718.2,285.2L717.8,282.7L718.5,281.9L718.3,279.6L717.4,278.1ZM796.4,114.3L799.5,112.0L802.6,112.5L803.1,113.5L801.9,114.6L799.6,115.7L799.2,116.9L797.9,118.0L793.5,119.5L791.1,119.8L790.4,119.2L788.1,120.6L793.4,116.0ZM765.6,144.8L766.6,145.8L771.2,146.2L769.3,148.4L768.0,150.9L767.4,153.8L768.6,156.3L770.6,155.4L773.3,152.8L775.0,148.7L774.6,147.4L778.3,146.2L781.5,144.5L783.7,142.7L784.7,141.1L785.1,139.0L784.5,137.2L788.4,134.6L789.5,132.5L792.1,128.8L793.6,128.3L797.1,129.1L798.9,128.5L799.7,129.3L800.6,130.6L800.4,131.6L803.1,131.7L801.6,133.7L800.1,136.8L801.4,137.2L801.6,138.6L804.9,137.2L808.2,134.6L810.0,133.5L809.9,135.6L810.5,141.6L809.0,143.2L810.6,144.6L811.4,146.1L813.9,146.7L814.7,147.5L814.5,149.7L815.7,150.0L816.1,151.0L815.0,153.8L811.6,155.7L808.1,156.7L804.8,158.8L801.4,159.2L797.6,158.7L792.7,158.8L790.2,160.7L787.2,161.9L779.2,167.9L781.1,167.4L785.9,163.9L791.0,161.7L794.0,161.5L795.2,162.8L792.5,164.5L791.7,169.4L793.8,170.8L797.3,170.4L800.4,167.4L799.8,169.3L800.8,170.3L797.6,172.1L792.5,173.7L790.1,174.8L787.0,176.8L785.6,176.6L786.4,174.2L790.8,172.0L787.5,172.1L785.1,172.4L785.1,173.3L782.4,174.6L777.4,176.4L775.0,178.6L774.4,180.1L774.5,181.6L775.3,181.6L775.5,180.6L775.9,181.3L775.4,182.0L773.8,182.5L772.8,182.5L768.8,183.2L766.7,184.0L770.1,183.5L770.5,184.0L767.1,184.8L765.8,184.8L766.0,184.5L764.9,185.3L765.4,185.4L763.7,187.4L760.7,189.6L761.0,188.8L760.6,188.7L760.4,188.0L759.8,189.5L760.1,190.0L759.4,191.1L755.4,194.4L755.2,194.3L757.1,192.4L756.7,191.3L758.0,189.0L756.8,190.2L756.0,192.0L754.9,191.5L755.8,192.4L754.2,195.1L754.8,195.3L753.0,199.0L750.3,201.1L747.4,201.9L744.9,203.5L743.7,203.7L741.8,204.8L741.0,205.7L737.3,207.5L733.0,210.5L731.5,212.5L730.8,214.4L730.3,216.8L730.3,218.8L729.7,220.0L729.2,223.2L727.5,226.2L726.1,227.9L725.2,228.2L724.1,227.9L724.3,226.7L723.6,226.0L723.5,221.5L723.7,220.4L725.3,218.6L725.4,217.0L724.9,214.7L724.2,214.3L721.0,215.5L720.6,215.4L720.3,214.1L719.4,213.6L728.6,199.7L740.1,184.4L747.5,170.6L755.0,158.7L761.4,149.7L765.3,144.7ZM870.8,87.9L873.0,87.9L874.3,87.4L876.6,87.3L881.4,87.4L885.0,88.6L883.6,89.2L877.1,89.4L877.3,89.7L879.9,89.5L881.9,90.0L883.4,89.6L883.8,90.1L882.8,91.0L888.4,89.8L890.6,90.1L891.1,90.8L888.0,91.9L887.6,92.3L885.0,92.6L886.8,92.7L885.0,95.0L884.8,96.9L885.9,98.1L884.4,98.2L882.7,98.7L884.4,99.7L884.5,101.3L883.4,101.5L884.6,103.1L882.2,103.3L883.4,104.0L882.9,104.7L879.7,105.0L881.0,106.4L880.9,107.3L878.7,106.5L878.0,107.0L879.5,107.5L880.9,108.7L881.2,110.4L878.9,110.8L876.7,108.8L876.9,110.2L875.3,111.3L880.3,111.5L872.7,115.0L868.6,115.7L867.1,115.8L865.5,116.6L862.9,118.9L859.4,120.4L854.0,121.6L852.3,123.0L851.6,124.6L850.3,126.1L847.1,127.9L847.1,129.8L844.0,134.0L841.7,134.2L840.1,132.2L836.9,132.2L835.9,130.9L835.9,128.6L834.7,125.8L834.7,124.3L835.7,122.2L834.9,120.2L836.4,118.5L835.9,117.8L838.9,115.2L841.4,114.4L842.5,113.6L843.8,111.9L839.6,113.3L838.5,112.6L839.4,111.2L840.7,110.1L841.9,110.0L844.1,110.6L842.3,108.6L840.9,108.9L840.2,108.4L843.1,106.5L843.0,105.7L843.8,102.3L843.2,101.6L844.0,100.8L842.4,99.7L840.5,99.6L835.0,99.8L834.6,99.2L834.6,98.1L840.0,97.4L836.6,96.9L835.6,96.2L836.8,95.5L845.9,93.9L847.2,93.3L846.0,92.7L847.8,92.0L853.7,90.8L854.6,90.1L859.5,89.4L861.7,89.4L861.8,89.9L864.8,89.0L865.7,89.6L866.5,89.7L867.5,90.2L866.7,89.4L867.6,88.7ZM890.2,120.8L891.9,122.3L890.0,124.1L884.4,126.1L878.3,125.0L879.9,124.0L876.8,122.9L879.4,122.5L879.4,121.8L876.4,121.3L877.6,119.8L879.8,119.5L881.8,121.0L884.1,119.8L885.8,120.4L888.2,119.2L890.5,119.4ZM908.8,140.2L910.4,139.9L912.3,139.9L912.2,141.9L911.0,144.1L912.8,144.3L915.1,147.5L916.4,147.9L918.7,151.8L921.0,152.3L921.1,154.0L920.2,154.7L921.2,156.1L919.8,157.4L917.2,157.4L914.1,158.1L913.2,157.6L912.1,158.8L910.3,158.5L909.0,159.5L908.0,159.0L910.5,156.3L912.1,155.7L909.1,155.3L908.4,154.2L910.3,153.4L909.1,152.1L909.2,150.4L912.0,150.6L912.0,149.1L910.6,147.5L908.4,147.1L907.8,146.4L908.3,145.3L907.7,144.6L906.9,145.8L906.5,143.4L905.5,142.1L905.8,139.6L906.8,137.6L908.2,137.8L910.2,137.6ZM906.7,151.3L905.5,153.5L902.4,155.1L899.7,154.7L901.0,152.0L899.9,149.4L903.4,146.2L904.9,146.1L907.0,147.7L906.2,149.4ZM856.0,88.2L857.0,88.3L857.4,88.7L856.7,89.2L850.2,90.5L851.8,90.5L846.2,91.9L842.5,93.2L839.1,93.8L836.2,94.0L837.0,94.2L835.9,94.5L835.1,95.4L827.1,97.7L826.5,98.1L828.3,98.0L827.6,98.5L823.1,99.6L821.4,99.1L817.8,99.3L822.6,96.7L823.1,97.1L824.0,96.1L826.6,94.8L829.3,94.0L829.5,93.4L831.6,92.5L833.4,92.7L835.9,92.1L832.8,92.0L840.4,89.0L842.3,88.8L841.9,89.2L844.6,88.4L847.6,88.0L849.7,88.0L849.7,88.1L852.1,87.9ZM822.2,110.7L822.5,111.5L821.8,113.5L818.5,114.5L820.3,115.9L822.1,116.3L822.4,118.3L824.5,118.5L822.9,120.0L818.4,122.6L817.4,121.7L816.8,119.5L814.8,119.8L813.5,121.1L814.0,122.4L815.2,123.4L815.3,124.0L814.7,126.3L813.0,128.0L811.5,127.3L809.1,125.5L810.3,128.9L810.0,129.7L806.4,128.8L804.1,127.4L803.2,126.3L804.3,125.6L801.8,123.4L801.3,124.0L796.7,124.4L796.1,123.6L798.7,121.9L804.7,121.6L805.0,120.8L806.5,119.7L810.3,117.6L811.1,115.9L810.1,114.8L808.2,114.1L809.6,113.6L809.7,112.2L808.7,112.1L808.6,111.4L807.1,112.0L804.5,112.3L800.4,111.8L799.3,111.5L807.2,105.8L806.6,106.6L810.1,105.0L814.1,104.2L813.2,106.2L811.2,107.5L814.4,107.0L816.5,106.2L817.8,107.2L818.3,108.1L817.4,109.0L820.2,108.5L820.0,109.9ZM810.4,104.1L808.8,104.8L809.8,104.2ZM817.4,100.5L821.2,100.4L821.2,101.1L820.2,101.9L818.8,102.4L816.5,102.8L815.5,102.6L811.8,102.9L815.2,100.8ZM828.7,94.0L827.9,94.1L828.7,93.8ZM788.2,122.1L789.3,121.8L789.5,122.4L791.3,123.9L790.4,125.0L791.7,124.8L792.0,125.5L790.0,126.3L788.1,125.7L788.3,124.7L782.3,127.1L783.1,125.7L782.5,125.8L784.9,123.5L788.2,121.0L789.0,121.2ZM808.5,116.0L807.1,117.2L805.6,117.9L803.9,118.0L804.7,116.9L806.6,115.7L808.1,115.4ZM787.5,127.4L787.0,127.9L784.0,129.2L783.0,129.1L783.2,128.5L785.4,127.4ZM789.9,129.2L788.2,130.4L787.7,130.2L787.9,129.5L789.4,128.6L789.6,128.6ZM810.5,159.9L812.1,159.0L813.2,159.6L812.2,160.5L813.6,161.2L814.7,160.6L816.4,161.4L815.1,163.3L816.6,162.9L816.4,165.9L814.9,168.3L813.9,168.4L812.8,167.9L814.0,165.7L813.5,165.4L810.4,167.7L809.3,167.6L811.1,166.3L809.5,165.7L803.5,165.8L803.5,165.0L805.1,164.1L804.5,163.3L806.8,161.7L810.4,157.5L812.2,156.1L814.1,155.2L815.0,155.3ZM796.6,159.5L798.8,160.2L800.3,161.3L800.2,161.8L799.2,161.8L797.1,161.0L795.9,159.8ZM793.7,168.6L795.0,169.0L796.9,168.9L795.5,170.0L794.6,170.2L792.6,169.0L792.4,168.1L793.5,167.3ZM720.8,233.7L722.8,233.7L724.8,234.7L725.4,235.7L727.9,235.4L731.2,239.1L732.1,239.0L733.4,239.6L732.9,240.4L734.8,240.5L736.4,241.6L735.8,242.3L734.0,242.7L732.2,242.8L730.4,242.6L726.6,242.8L728.9,241.3L728.1,240.6L726.5,240.4L725.9,239.6L725.9,238.0L724.4,238.1L722.3,237.3L721.8,236.7L718.6,236.3L717.9,235.8L719.2,235.1L716.7,234.9L714.2,236.4L713.1,236.4L712.5,237.1L711.0,237.4L710.1,237.1L711.8,236.3L712.8,235.3L715.8,234.1L718.7,233.5ZM740.2,242.8L742.3,243.2L742.8,242.8L744.8,242.8L746.2,243.5L746.9,243.4L747.1,244.4L748.5,244.4L748.2,245.2L749.3,245.3L750.3,246.3L749.0,247.4L747.9,246.8L745.9,246.8L745.2,247.3L744.1,247.5L743.9,246.8L742.9,247.2L741.3,249.1L740.8,248.7L740.9,247.9L739.3,247.4L738.0,247.6L736.4,247.4L735.0,247.9L733.8,247.1L734.4,246.2L738.6,246.8L739.8,246.1L738.9,244.9L739.3,243.9L737.8,243.4L738.6,242.7ZM727.4,246.9L728.6,247.6L728.8,248.3L726.9,248.4L726.0,248.8L724.6,248.4L723.4,247.4L724.0,246.8L725.1,246.6ZM756.9,246.8L757.2,247.4L756.4,248.1L752.8,248.1L753.0,247.0L753.5,246.6ZM730.8,232.1L730.9,230.5L730.3,229.6L731.6,227.9L732.3,228.0L732.2,230.3L731.5,231.9ZM731.4,224.5L731.8,223.5L733.0,223.3L734.6,223.3L734.4,224.1ZM735.1,226.0L734.8,225.7L735.5,224.2L734.9,223.1L735.1,222.8L736.4,224.0ZM765.1,267.9L765.7,267.9L765.2,270.0L762.9,270.3L762.5,270.1L763.4,269.3L763.5,268.2ZM959.4,297.5L959.9,295.4L960.7,295.3L960.3,291.9L960.7,289.7L959.5,287.8L958.2,287.4L956.9,285.7L956.9,284.9L954.0,285.9L953.0,285.8L951.9,286.4L949.7,286.4L948.1,284.6L947.2,282.6L945.1,280.7L940.6,280.8L938.3,281.1L934.0,282.3L930.3,284.3L927.8,285.1L925.3,284.3L924.0,284.4L922.1,283.8L920.3,283.8L917.0,284.3L912.3,286.1L911.1,286.1L908.2,284.8L905.7,282.6L903.3,281.1L901.4,279.3L898.6,278.0L897.2,276.5L896.7,275.5L896.3,273.4L894.0,270.6L892.6,269.8L892.3,268.5L891.9,267.9L889.7,266.3L888.5,266.1L887.9,264.9L887.1,264.3L886.4,261.5L886.8,260.3L885.7,258.1L884.3,257.1L885.5,256.6L886.8,254.7L887.5,253.2L887.2,251.7L888.0,250.3L888.3,247.7L887.7,243.6L888.0,242.2L887.3,240.8L885.9,239.6L886.2,237.2L887.2,236.4L888.0,234.9L887.8,234.0L888.7,232.0L890.1,230.3L891.0,229.8L891.7,228.2L891.7,226.7L892.6,225.0L894.2,224.0L895.7,221.1L897.0,220.0L899.3,219.7L901.1,217.8L902.3,217.0L904.2,214.7L903.4,211.2L904.4,207.4L905.8,205.5L909.6,203.0L911.4,198.4L913.1,198.4L914.6,199.6L916.7,199.4L919.2,200.1L920.2,200.1L922.1,198.6L924.5,198.1L925.7,196.9L927.7,196.1L935.1,195.3L936.3,195.8L938.2,194.7L940.5,194.6L941.6,195.3L943.1,195.1L945.2,194.0L946.8,194.3L947.2,195.8L948.8,194.7L949.1,195.3L948.4,196.6L949.7,198.6L950.0,201.0L948.9,202.4L949.7,203.9L950.9,204.0L951.9,205.3L952.9,205.8L955.9,206.7L956.8,206.5L958.9,207.0L962.4,208.2L964.2,210.7L970.2,212.4L973.2,213.8L974.2,213.0L974.9,211.8L973.7,209.6L973.9,208.3L975.2,207.0L976.7,206.6L980.1,207.1L981.3,208.4L982.2,208.4L985.6,209.2L986.5,210.1L989.7,210.1L996.2,212.1L997.7,211.2L998.4,210.4L1000.4,210.2L1002.2,210.5L1003.5,211.9L1003.6,211.0L1005.8,211.7L1007.7,211.8L1011.5,220.6L1009.3,218.9L1005.9,214.9L1005.7,215.2L1007.9,218.1L1012.5,223.3L1015.7,231.6L1018.4,239.9L1022.6,255.2L1024.8,266.3L1026.4,277.4L1027.3,288.5L1027.6,298.2L959.4,298.2ZM957.3,119.0L958.6,119.6L963.9,126.3L968.8,133.4L974.1,141.8L978.3,149.4L982.3,157.1L986.0,165.0L990.0,174.4L988.9,174.0L988.9,172.7L986.3,171.9L986.5,171.4L988.0,170.5L987.2,169.9L983.8,169.2L983.3,168.2L981.5,168.5L981.4,170.0L980.6,172.0L980.9,172.7L979.5,173.0L980.1,176.3L979.4,177.5L979.3,179.4L981.1,182.1L983.2,183.0L983.1,183.7L980.6,183.8L979.0,186.2L977.6,184.9L977.5,184.3L975.0,184.0L972.6,184.7L974.8,186.3L973.9,186.7L972.7,186.7L971.0,185.3L970.9,185.9L972.1,187.6L973.7,188.9L973.2,189.5L976.4,191.6L977.1,193.1L974.7,192.4L976.0,193.8L974.7,194.1L976.5,196.6L975.1,196.6L972.8,195.4L969.9,191.3L966.8,188.4L965.6,186.8L964.0,185.9L963.3,184.6L963.0,181.8L962.6,181.4L960.2,179.7L958.0,178.7L956.5,177.7L954.4,176.9L952.9,175.8L951.1,172.6L949.7,172.2L949.3,173.3L948.5,172.4L948.4,171.4L948.8,171.2L947.1,170.8L945.7,171.8L946.1,173.1L946.0,173.9L947.0,175.3L949.3,176.7L950.8,178.9L953.7,181.1L956.0,181.8L955.5,182.3L959.4,184.1L961.7,185.6L962.1,186.1L962.1,187.1L960.4,185.8L958.4,185.4L958.2,187.2L960.1,188.2L960.4,189.7L959.6,189.8L959.2,192.2L958.4,192.4L958.3,189.5L955.7,186.5L954.7,186.1L953.6,184.9L952.1,184.4L951.0,183.3L949.4,183.1L947.5,181.9L943.4,178.5L942.2,175.7L939.3,174.5L937.5,176.2L936.7,176.4L935.1,177.9L930.9,177.2L928.0,178.1L928.4,181.3L926.7,183.2L924.0,183.8L924.0,184.7L923.0,186.3L922.5,188.5L923.7,190.1L922.6,191.4L922.5,193.2L920.9,193.8L919.6,195.9L914.6,195.9L913.3,196.9L912.6,197.9L911.5,197.7L910.5,196.7L909.8,195.1L907.6,194.7L906.8,195.4L904.5,195.3L904.6,193.2L904.3,191.4L903.3,191.2L902.7,190.1L902.7,188.3L903.6,186.2L903.9,184.5L903.1,181.4L903.1,179.4L902.2,178.2L905.0,176.2L907.6,176.7L910.3,176.7L912.6,177.2L917.6,177.1L918.5,175.5L918.2,170.1L915.8,167.2L914.2,165.9L911.1,164.9L910.7,162.9L913.1,162.3L916.4,163.0L915.4,160.0L917.4,161.1L921.5,159.1L921.7,156.9L924.7,155.9L925.5,155.2L926.3,151.4L928.6,150.3L930.1,150.4L930.3,149.9L932.3,150.3L933.2,149.0L932.5,148.1L932.0,146.7L930.9,145.3L930.2,142.7L930.5,141.3L932.0,141.2L932.4,140.5L933.5,139.8L933.9,141.0L933.6,141.8L934.1,142.5L935.1,142.9L935.0,143.9L934.4,143.6L933.7,145.4L934.5,146.6L934.8,147.6L936.8,148.2L937.0,149.1L938.7,148.6L939.5,147.9L941.9,148.9L943.0,149.7L944.0,149.0L948.3,146.9L950.2,147.4L950.6,148.0L952.3,148.0L952.3,146.9L954.4,146.1L953.2,144.0L952.4,142.1L952.5,140.6L953.8,139.7L956.0,141.5L957.3,141.5L956.2,138.2L955.8,138.5L954.3,137.6L953.4,136.2L955.2,135.5L957.0,135.2L959.0,135.6L960.7,135.5L961.8,134.2L959.4,133.1L956.6,133.3L954.2,134.1L951.8,134.6L950.2,133.3L948.3,132.6L947.4,130.2L945.6,128.1L945.6,126.8L946.1,125.3L948.0,122.9L948.7,122.4L947.9,121.4L945.2,120.4L943.2,121.0L942.7,122.6L943.8,124.0L942.4,125.8L940.5,127.8L940.9,131.1L942.8,132.7L944.9,134.1L944.6,136.8L943.1,137.4L944.2,141.5L944.1,143.8L941.9,143.6L941.6,145.5L939.5,145.7L938.2,143.3L935.8,140.5L933.4,137.0L931.8,135.5L929.4,138.4L927.3,138.9L924.6,137.7L923.3,135.1L921.2,129.6L922.2,128.1L925.6,126.2L927.6,123.8L928.9,120.7L930.2,116.4L933.4,112.1L935.6,111.2L937.8,111.3L938.4,109.6L940.7,109.7L942.5,109.3L947.8,110.8L946.6,111.4L949.2,112.7L949.9,112.0L953.1,113.2L958.0,118.8ZM998.0,197.5L995.4,196.0L993.0,195.9L993.0,197.0L991.6,197.4L988.7,195.9L986.3,195.9L983.7,193.2L981.4,191.6L981.4,189.4L979.5,188.1L980.5,185.4L983.8,185.3L983.8,183.2L988.0,183.6L989.8,181.8L992.5,181.0L994.1,185.0L1000.7,197.2ZM914.0,92.9L915.2,92.8L921.1,94.6L919.6,95.3L920.3,96.6L919.8,96.9L920.7,98.4L919.6,98.5L916.6,97.4L916.9,96.8L915.1,96.3L912.2,94.8L910.4,93.5L912.1,92.9L913.1,93.4L914.3,93.4ZM924.8,97.3L922.7,96.9L922.9,96.4L921.7,95.9L923.2,95.5L924.3,96.2L926.1,96.6ZM915.0,92.4L916.9,91.9L918.6,92.3L918.7,91.8L923.7,92.8L923.7,93.7L921.5,93.9L918.6,93.6L918.0,93.1L916.7,93.1ZM957.7,193.8L958.3,194.6L958.3,196.0L956.2,195.0L951.5,193.3L951.3,191.8L954.0,192.1L957.7,191.5ZM943.4,185.2L944.1,188.9L943.1,188.7L942.5,189.6L941.5,188.9L940.4,185.5L939.6,184.0L940.8,184.1L941.7,183.2ZM941.6,182.8L940.6,182.2L939.7,180.3L940.0,179.3L941.1,178.2L941.9,180.6ZM980.2,199.5L981.9,199.4L983.7,199.6L983.9,200.1L985.0,199.7L985.0,200.6L981.8,200.8L981.7,200.3L978.6,199.8L978.6,198.6ZM1000.0,200.1L1000.0,199.5L1001.8,199.5L1002.5,200.9L1001.2,201.8L999.9,201.4L998.8,200.3ZM938.9,145.0L938.5,147.1L936.2,145.7L935.6,144.6L937.9,143.8ZM46.0,300.8L44.8,302.9L42.8,304.1L41.1,305.4L40.9,307.4L39.6,310.4L38.6,311.3L37.7,314.7L40.0,317.3L39.6,319.7L39.9,320.6L40.0,321.9L42.9,326.4L44.0,327.1L44.7,328.3L45.8,333.5L47.3,337.9L48.2,339.3L47.5,343.2L46.3,344.9L41.7,347.3L39.8,350.3L38.9,350.8L37.9,352.8L37.1,353.5L37.7,355.5L41.8,359.9L43.0,362.6L44.0,364.4L44.2,365.6L43.6,366.6L41.2,368.1L36.5,358.5L33.1,350.3L29.6,340.7L27.3,332.5L25.1,322.9L23.8,314.7L23.1,306.5L22.8,298.2L48.3,298.2ZM71.4,334.3L72.5,336.1L73.7,339.4L74.7,340.8L74.8,342.1L74.5,342.9L73.2,341.3L72.9,342.1L73.9,344.2L74.0,345.4L73.5,346.0L74.0,348.4L73.9,356.8L74.8,367.9L73.0,368.5L71.3,369.7L67.1,368.0L65.8,366.5L64.6,364.0L62.7,361.8L61.7,359.8L61.4,357.8L62.4,357.3L62.0,356.4L62.5,354.3L62.1,352.5L60.0,349.4L58.9,346.8L59.4,345.3L59.2,343.5L60.5,343.4L62.7,342.3L63.9,342.3L65.0,340.7L66.8,339.0L67.3,337.6L66.6,336.4L67.8,336.7L68.9,334.8L68.6,333.1L69.2,331.9ZM152.1,434.3L154.1,434.6L154.3,435.1L154.1,436.3L151.2,436.5L150.7,435.1L150.6,433.5ZM326.7,338.9L328.6,337.8L329.3,339.0L330.4,340.1L329.9,341.3L330.1,345.1L330.7,345.4L330.8,346.6L330.9,347.8L330.3,349.3L330.7,351.2L333.2,352.6L336.2,355.2L335.6,355.8L336.6,357.6L336.8,360.6L338.0,360.0L338.6,361.2L339.4,360.8L338.9,363.7L340.9,366.5L342.1,368.8L342.0,371.0L340.6,374.3L340.8,376.7L339.6,379.2L337.0,383.0L336.3,384.6L334.9,386.6L332.8,389.1L330.4,390.5L327.1,394.0L325.3,396.4L323.8,397.8L321.0,401.8L320.7,402.7L318.9,403.7L316.4,403.8L313.8,404.9L310.5,407.2L309.2,406.0L308.1,405.5L309.1,404.0L307.7,404.6L304.9,406.6L302.3,405.4L301.1,405.2L299.3,404.4L298.5,402.6L299.3,398.0L296.2,397.6L297.4,396.3L297.6,394.2L295.8,396.2L293.6,396.7L295.3,395.1L296.2,393.5L297.5,392.1L298.0,390.1L295.3,392.5L293.6,393.4L292.0,395.6L290.6,394.5L291.1,393.0L290.2,391.0L289.3,389.9L289.9,389.3L287.4,387.6L285.7,387.5L283.8,386.2L279.5,386.4L276.0,388.2L273.3,388.3L271.1,388.2L268.3,389.6L266.1,390.2L265.4,391.7L264.3,392.8L260.8,393.1L258.9,392.6L255.5,393.1L253.9,394.6L253.3,394.4L250.8,396.1L247.6,396.0L245.4,394.2L244.2,393.7L244.4,392.1L245.6,391.7L246.1,391.1L246.6,388.2L246.6,386.5L245.6,383.7L245.4,382.1L245.6,380.5L244.8,378.7L244.8,377.9L243.8,376.7L243.7,374.5L242.5,372.3L242.2,371.2L243.2,372.4L242.6,369.8L243.8,370.6L244.4,371.7L244.5,370.2L243.4,368.0L243.2,367.1L242.7,366.3L243.1,364.7L243.7,364.0L244.1,362.6L243.9,361.0L245.1,359.0L245.2,361.1L246.4,359.2L248.6,358.3L250.0,357.1L252.0,356.0L253.2,355.8L253.9,356.2L256.1,355.1L257.7,354.8L258.1,354.2L258.8,353.9L260.3,354.0L263.1,353.2L264.7,352.0L265.5,350.5L267.2,349.0L267.6,346.4L269.7,344.1L270.6,346.5L271.8,345.9L271.0,344.6L272.0,343.2L273.1,343.8L273.6,341.7L275.3,340.3L276.0,339.2L277.4,338.7L277.5,338.0L278.7,338.3L278.8,337.6L281.4,336.8L283.2,338.1L284.6,339.8L287.9,340.0L287.5,338.5L289.1,336.3L290.4,335.5L290.0,334.8L291.4,333.3L293.1,332.2L294.5,332.6L296.9,332.1L296.9,330.6L295.0,329.7L296.5,329.3L298.3,330.0L299.6,331.2L301.8,331.9L302.6,331.6L304.2,332.4L305.9,331.6L306.9,331.9L307.6,331.4L308.7,332.7L307.8,334.2L306.6,335.3L305.7,335.4L305.8,336.5L303.7,339.3L303.8,340.1L305.7,341.7L307.6,342.5L310.5,345.2L311.3,345.2L312.5,345.9L312.8,346.7L315.1,347.7L317.1,346.7L320.5,340.2L320.3,338.9L320.7,338.1L320.6,336.5L321.3,334.4L321.9,333.8L321.6,332.9L323.2,329.9L323.3,329.1L324.5,328.0L325.1,329.4L325.1,331.1L325.7,331.5L325.6,332.7L326.4,334.1L326.4,335.7L326.1,336.7ZM307.9,413.1L311.0,412.2L312.2,412.4L311.3,415.6L310.3,416.6L309.3,418.8L308.9,418.1L306.8,420.0L305.2,419.7L304.7,417.4L305.0,415.5L304.5,413.1L304.9,411.8L306.2,412.1ZM296.7,300.2L298.1,299.3L302.6,300.4L303.0,301.5L303.7,306.0L306.5,307.7L308.9,304.7L312.2,303.0L314.7,303.0L319.1,305.0L322.0,305.5L326.8,307.4L331.9,309.0L335.2,311.9L335.5,313.5L340.0,315.2L340.6,316.7L338.0,317.0L338.4,318.9L340.7,320.7L342.1,323.6L343.7,323.6L343.5,324.8L345.5,325.3L344.6,325.8L347.4,327.0L347.0,327.8L345.1,328.0L344.5,327.2L339.5,326.5L336.2,323.2L335.1,320.8L331.6,319.5L329.2,320.4L327.4,321.3L327.5,323.3L325.3,324.3L323.8,323.8L320.9,323.7L318.7,321.4L315.9,320.9L315.2,321.6L311.7,321.7L313.0,319.5L314.8,318.7L314.3,315.6L313.2,313.3L307.9,310.9L305.6,310.7L301.5,308.1L300.6,309.5L299.6,309.7L299.0,308.7L299.0,307.5L296.9,306.1L299.9,305.1L301.9,305.2L301.7,304.4L297.6,304.4L296.5,302.8L294.0,302.2L292.9,300.9ZM354.7,311.6L354.3,309.9L353.7,308.8L350.9,306.7L349.0,305.9L349.8,305.2L353.3,307.3L355.4,309.4L355.6,310.8ZM353.3,311.8L352.2,313.5L350.7,313.8L350.2,314.6L347.1,315.9L345.7,315.9L342.0,314.3L342.2,313.4L344.7,313.8L346.3,313.6L346.8,312.3L347.2,312.2L347.3,313.7L348.9,313.5L349.8,312.5L351.4,311.5L351.2,309.9L352.9,309.8L353.4,310.3ZM256.6,300.5L253.9,302.4L253.8,305.2L252.7,309.4L252.3,308.5L249.1,309.7L248.0,308.0L246.1,307.9L244.7,307.0L241.4,308.0L240.3,306.6L238.5,306.8L236.2,306.4L235.8,302.7L234.4,301.9L233.1,299.5L232.9,298.2L256.5,298.2ZM220.8,314.6L218.5,312.3L214.9,310.0L213.7,308.3L211.6,306.1L208.1,300.1L206.2,298.2L218.3,298.2L217.3,300.2L218.9,301.2L219.9,301.3L220.4,303.2L221.4,304.8L223.4,305.0L224.8,306.8L224.0,310.3L223.9,314.6ZM237.0,317.5L237.6,316.3L242.7,317.6L243.7,319.4L247.8,320.0L251.2,321.6L248.0,322.7L245.0,321.6L239.6,321.4L237.1,320.9L233.9,319.9L231.8,319.6L230.7,319.9L225.6,318.8L225.2,317.6L222.7,317.4L224.6,314.7L227.9,314.9L230.2,316.0L231.3,316.2L231.7,317.2ZM263.6,299.7L266.1,302.2L267.7,300.9L272.9,300.0L272.6,301.3L271.4,300.8L270.2,302.5L267.7,303.6L270.3,307.2L269.8,308.1L272.2,311.3L272.1,313.2L270.6,314.0L269.6,313.0L271.0,310.7L268.2,311.8L267.5,311.0L267.9,309.9L265.9,308.3L266.2,305.6L264.3,306.4L264.5,313.7L262.8,314.1L261.6,313.3L262.4,310.7L262.1,308.0L260.9,308.0L260.0,306.1L261.2,304.3L261.6,302.0L262.9,298.2L263.9,298.2ZM285.8,298.9L286.9,300.4L286.1,300.8L285.0,299.0L284.8,298.2L285.9,298.2ZM293.6,309.0L291.3,307.9L289.0,307.6L287.4,307.8L285.5,307.7L286.2,306.2L289.6,306.1L292.6,306.9ZM282.6,308.8L280.7,308.3L280.2,307.1L283.0,307.0L283.6,307.9ZM277.1,322.4L279.5,321.8L281.4,321.7L282.3,321.3L283.3,321.7L282.2,322.4L276.9,324.5L275.0,326.6L272.6,327.2L272.3,326.8L272.6,325.9L273.9,324.2L276.7,323.1ZM270.6,322.4L266.4,323.2L262.8,322.8L262.8,321.8L265.1,321.2L266.7,322.1L268.6,321.9L271.1,320.8ZM263.6,326.9L261.5,326.0L260.1,324.9L262.7,324.4L265.0,326.1ZM260.0,321.4L260.6,322.6L255.5,323.5L254.0,323.5L255.0,321.9L256.5,321.8L257.3,320.9L258.2,321.6ZM249.3,320.9L251.2,321.7L249.8,322.8L248.1,321.7ZM253.9,321.4L253.6,323.1L252.0,323.0L252.0,321.7ZM125.1,481.6L126.9,481.9L128.3,482.6L130.1,483.2L131.2,483.0L134.7,484.3L135.4,483.8L134.8,482.9L135.5,482.5L136.1,481.8L138.2,481.1L140.0,479.6L141.5,479.9L142.3,478.5L143.7,478.5L144.4,478.0L143.9,477.3L145.4,476.2L147.7,475.7L150.6,476.0L152.2,476.7L153.1,477.6L156.2,478.9L158.0,479.2L160.9,480.4L162.3,480.5L163.1,480.1L163.7,479.2L168.2,480.2L171.0,480.3L173.4,482.6L173.7,483.1L174.2,484.1L173.3,484.6L172.8,485.4L173.6,486.2L174.9,486.1L175.3,487.0L175.2,488.5L176.6,489.2L178.1,489.4L179.2,489.0L179.3,487.5L180.0,486.2L179.9,484.5L184.4,483.6L184.6,482.0L185.2,481.2L187.2,480.2L187.7,479.5L189.2,478.8L190.7,479.0L193.1,478.5L194.7,478.6L195.5,478.0L195.8,476.6L197.4,478.2L198.7,478.6L200.1,478.8L201.3,478.5L204.1,478.8L204.9,478.5L206.1,478.7L207.2,479.2L211.2,478.5L212.6,478.9L216.9,475.1L218.9,476.0L221.6,478.2L224.2,478.2L227.3,477.6L229.5,476.4L231.1,476.3L232.3,475.8L233.3,476.3L234.8,477.6L236.3,477.6L237.1,478.1L238.7,478.7L240.3,478.9L241.8,478.7L244.3,477.3L245.6,477.2L248.1,477.7L249.6,477.3L250.8,477.3L253.2,477.8L256.3,477.1L259.4,477.0L262.1,476.6L263.6,474.6L264.2,475.2L263.9,476.2L264.1,477.8L265.0,478.2L273.0,477.9L276.3,478.1L276.8,478.8L275.9,479.6L276.3,480.3L278.4,481.3L282.4,482.4L284.2,482.3L276.2,490.4L268.5,497.0L260.0,503.1L251.8,507.7L243.9,511.2L238.5,513.0L234.4,514.1L227.0,515.4L218.2,516.0L205.7,515.4L198.4,514.5L192.3,513.5L179.5,510.4L168.7,506.8L157.3,502.0L145.5,495.8L134.8,489.0L129.2,484.9ZM740.1,394.3L738.5,394.4L738.1,392.9L737.0,394.3L738.3,396.7L736.6,398.7L737.2,399.9L736.1,401.2L731.3,404.8L727.0,406.3L722.2,406.9L720.0,406.6L719.3,408.3L717.4,410.4L716.7,411.8L714.9,412.8L712.6,413.2L711.1,412.1L709.9,412.9L709.0,415.6L710.0,416.5L711.5,415.6L711.5,417.0L709.2,417.9L706.7,419.6L705.1,422.3L703.9,423.8L702.0,423.8L699.7,425.2L698.1,427.2L699.1,429.2L700.7,429.8L698.7,432.1L695.6,433.6L692.6,436.7L690.3,437.8L688.9,439.0L688.0,441.7L688.3,443.2L686.0,443.0L682.5,444.6L680.8,447.0L680.0,447.1L678.5,446.2L677.4,444.4L675.9,443.0L676.1,441.3L677.5,439.8L677.4,438.1L679.3,433.6L681.3,431.0L684.3,428.9L681.6,428.2L684.6,425.8L687.2,421.2L689.0,422.2L692.4,416.5L691.3,415.8L689.3,419.2L688.2,418.8L692.6,411.0L693.5,409.7L695.6,407.8L696.6,405.1L698.2,402.0L699.2,401.9L707.0,392.9L710.2,388.7L711.7,384.6L713.5,382.3L714.9,378.8L717.9,375.4L723.8,364.2L727.0,358.0L728.4,353.4L729.1,349.5L726.9,347.8L727.0,346.7L722.5,343.9L718.4,340.9L716.7,339.1L716.1,336.8L716.7,336.0L715.1,332.4L711.4,321.7L710.4,320.4L709.8,318.3L707.8,316.5L705.9,315.4L706.9,314.1L705.7,311.5L706.7,309.5L709.0,307.7L710.6,305.7L710.0,304.4L708.9,305.8L707.3,304.5L707.9,303.7L707.5,301.2L708.5,300.8L709.0,299.0L709.5,298.2L776.4,298.2L775.8,310.8L774.0,323.3L771.1,335.8L766.9,348.3L764.1,355.2L761.0,362.2L757.5,369.1L752.9,377.4L747.9,385.8L741.4,395.5ZM687.0,445.1L686.7,447.0L688.1,448.5L690.1,449.2L688.5,450.4L686.7,450.6L686.4,449.7L683.5,449.6L681.4,451.2L680.6,450.4L679.0,450.1L677.6,448.7L676.5,447.3L675.6,444.4L676.8,445.0L678.4,446.7L680.3,447.6L681.9,446.4L683.5,444.7L685.8,443.6L687.0,443.9ZM705.3,440.3L706.4,441.0L708.2,439.9L709.0,441.1L707.8,442.0L704.7,442.8L704.5,441.9L702.2,443.1L702.0,441.9ZM459.7,411.6L459.5,413.5L458.4,414.6L457.7,413.9L456.7,413.5L456.7,411.2L455.0,409.6L452.0,408.5L451.4,407.5L452.3,406.5L451.3,404.4L450.1,402.6L448.0,400.7L447.7,400.2L442.6,396.6L440.5,394.6L441.2,394.4L443.4,396.0L445.6,396.7L447.8,399.2L451.2,402.1L450.1,400.2L451.5,401.0L453.2,403.1L455.5,404.0L457.1,404.2L457.7,403.1L459.1,403.5L460.0,405.9L460.3,407.6L458.6,407.5L458.6,408.4L459.5,409.6ZM450.3,418.3L450.9,416.9L450.8,414.8L451.3,414.1L450.9,412.6L451.6,411.3L453.8,413.6L454.8,412.5L455.9,413.7L456.4,414.8L455.8,418.1L455.2,419.2L456.6,420.6L455.1,420.6L453.8,421.6L454.5,426.2L453.0,428.1L451.1,428.1L449.3,427.2L447.0,427.0L446.1,426.0L446.1,424.0L447.2,421.3L448.3,420.8ZM362.4,313.8L364.0,315.6L365.5,316.5L365.2,317.3L364.5,317.6L363.1,316.5L361.6,314.7L360.7,312.6L361.1,312.3L361.5,313.2ZM385.4,328.5L383.5,328.5L382.1,326.7L384.4,327.5ZM379.5,325.9L377.8,325.6L377.1,325.2L377.0,324.0L378.9,324.5L380.0,325.1L380.6,325.8ZM382.4,325.5L379.8,323.1L378.9,321.5L379.9,321.5L381.3,323.7L382.7,325.0ZM377.2,322.1L374.8,320.9L371.9,319.0L372.3,318.7L376.2,320.6L377.0,321.5ZM369.5,318.9L368.2,318.3L367.5,317.7L366.9,317.1L366.9,316.7L370.1,318.8ZM403.9,344.6L402.6,343.4L402.4,342.6L404.6,344.2ZM402.4,342.2L401.6,341.8L401.1,342.0L400.5,341.2L399.8,339.1L401.3,339.9ZM406.9,358.8L408.8,360.1L408.1,360.8L403.9,358.8L401.6,357.3L399.0,355.3L398.3,354.4L399.4,354.4L401.3,355.4ZM434.6,347.5L434.6,348.9L433.1,349.3L431.5,348.9L430.9,347.7L431.6,346.8L433.0,347.1L433.5,346.6ZM434.2,345.7L433.5,344.7L435.5,344.0L436.9,343.1L437.2,344.5ZM651.5,487.6L649.2,489.2L645.7,489.8L644.2,489.8L645.7,489.0L642.3,489.6L642.1,489.0L642.9,488.2L645.0,487.4L646.1,487.1L647.5,487.2L649.0,486.1L651.5,483.7L653.3,482.7L654.8,482.4L654.7,483.2L653.7,484.9ZM616.2,488.7L616.2,489.9L615.4,489.7L610.9,489.8L609.9,489.5L609.7,488.6L610.6,488.3L613.6,488.7ZM588.1,492.1L589.5,491.8L588.8,492.5L587.7,493.0L586.1,492.8L585.1,492.1L585.4,491.5ZM583.5,492.6L581.4,492.3L579.9,491.8L580.7,491.3ZM633.4,504.5L631.6,505.2L630.5,505.0L628.5,505.1L628.7,504.6L629.3,504.0L632.4,504.3L636.1,503.0L635.5,503.7ZM551.8,503.0L547.6,501.3L547.5,500.6L549.4,500.9L550.9,501.4L553.2,502.8ZM475.3,481.7L481.1,483.4L484.8,483.9L486.6,484.7L490.7,485.9L492.6,486.3L498.6,486.5L504.0,487.6L505.6,488.2L506.5,489.0L506.8,489.7L508.7,492.1L507.6,492.4L508.0,493.1L507.2,493.5L507.9,494.3L508.6,495.6L510.4,497.0L513.1,498.5L518.0,500.5L520.2,500.8L522.0,501.5L520.4,502.1L518.9,502.2L520.3,503.2L524.3,505.2L533.1,507.4L547.2,510.3L547.8,509.9L552.0,510.7L550.5,509.9L552.6,510.3L552.1,509.9L554.5,510.5L553.9,509.9L555.1,509.6L558.6,510.5L562.8,511.3L565.3,511.6L566.2,511.2L570.4,511.9L572.3,511.1L571.9,510.5L567.5,510.1L566.4,509.6L564.5,509.3L562.2,506.9L557.8,505.4L559.7,505.5L561.3,505.2L562.8,505.8L564.6,504.7L564.9,504.2L564.1,503.5L561.2,502.5L555.8,502.0L551.8,500.3L549.7,498.2L551.7,499.0L554.4,498.5L555.8,499.3L557.2,499.1L559.1,498.3L559.9,497.7L561.3,497.5L560.2,496.1L560.2,495.4L561.3,495.1L562.3,495.7L564.7,494.9L567.6,494.7L571.2,493.4L572.9,493.7L574.4,493.4L575.9,493.7L577.4,493.7L578.8,493.4L581.9,493.8L586.6,493.8L588.1,493.7L590.7,492.9L592.0,493.3L593.4,492.9L594.8,492.2L596.0,494.2L597.4,493.6L598.4,494.3L599.7,494.5L600.7,495.1L603.8,494.6L605.4,494.7L607.9,495.3L609.0,494.5L608.5,493.2L607.2,493.0L606.9,492.3L607.4,490.1L608.1,490.3L611.2,490.3L611.9,490.6L613.1,491.3L613.2,491.9L614.7,492.1L619.7,491.2L620.5,491.6L622.1,491.5L624.3,490.0L624.6,490.9L625.6,491.2L627.2,491.0L627.4,491.8L630.0,492.1L630.9,492.5L633.7,491.1L634.0,491.9L635.8,491.7L636.5,492.1L636.5,492.7L638.2,492.6L641.6,491.6L647.0,490.9L650.1,489.8L651.4,488.9L652.3,488.1L654.4,485.0L655.2,484.1L656.2,483.3L659.1,481.6L660.2,480.8L661.5,479.0L663.2,478.0L674.2,473.0L675.7,472.9L677.4,472.2L680.3,471.5L683.6,470.2L685.0,469.9L685.3,470.5L684.0,471.3L680.6,472.4L679.9,472.1L678.5,472.3L675.3,473.4L673.9,474.1L672.8,474.9L672.0,475.8L672.0,476.5L670.4,477.1L668.9,477.2L664.1,479.6L663.0,480.4L662.5,481.3L662.5,481.9L663.0,482.4L663.3,483.1L661.3,486.2L656.0,491.2L654.4,492.2L651.0,493.7L649.1,493.9L646.1,495.2L637.9,497.0L636.0,497.8L629.3,497.9L628.6,498.6L629.8,499.1L630.0,499.4L629.7,500.0L627.9,500.6L626.6,500.4L624.6,500.9L622.6,502.2L622.8,502.8L622.0,503.4L622.0,504.0L623.2,504.3L623.9,504.7L624.4,505.7L625.7,506.0L626.5,506.4L626.7,506.9L626.7,507.4L624.2,508.6L627.6,507.9L619.0,510.6L609.2,513.1L600.4,514.6L588.7,515.7L581.0,516.0L572.1,515.7L558.6,514.6L551.7,513.5L542.6,511.8L529.7,508.5L522.7,506.2L514.1,503.1L500.4,497.0L493.3,493.3L484.9,488.4L475.5,482.3ZM792.8,298.5L797.7,298.9L797.8,301.7L799.9,299.9L808.1,302.6L809.5,304.2L809.1,305.8L812.3,304.9L817.8,306.4L822.0,306.3L826.2,308.6L829.9,311.7L832.1,312.5L834.5,312.6L835.5,313.5L837.3,318.7L836.7,323.4L835.5,325.2L832.1,329.1L830.8,332.2L829.2,334.6L828.5,334.7L828.1,336.7L829.3,342.0L829.6,348.1L829.0,349.2L829.5,353.0L827.8,356.6L828.2,359.5L826.4,360.7L826.3,362.4L823.6,362.4L819.8,363.4L818.5,364.7L815.9,365.5L813.7,367.7L812.7,370.5L813.1,372.5L814.2,374.1L814.9,376.9L815.0,378.3L813.9,379.8L813.6,384.7L812.6,387.0L811.7,388.3L812.0,390.9L811.3,392.5L811.3,394.3L809.6,395.8L807.6,395.2L806.4,395.5L797.9,380.2L791.3,366.3L786.9,355.2L783.7,345.5L780.7,334.4L778.7,324.6L777.6,317.7L776.9,310.8L776.4,298.2L792.5,298.2ZM1017.7,369.0L1016.3,370.1L1016.9,371.4L1014.4,377.2L1013.5,378.5L1010.9,380.3L1006.7,385.2L1001.3,389.7L999.2,391.0L996.6,392.1L995.3,392.2L994.9,393.0L993.6,392.6L992.3,393.1L989.9,392.6L988.4,392.9L987.5,392.8L984.9,393.9L982.9,394.3L981.3,395.4L980.2,395.4L979.4,394.4L978.7,394.4L977.7,393.5L977.7,391.1L977.2,389.3L978.0,388.8L978.2,386.6L974.7,378.0L973.1,375.9L972.3,373.9L971.1,364.8L971.3,361.5L971.0,360.0L968.9,356.5L967.2,351.4L965.2,348.7L965.0,344.8L965.5,342.3L966.4,339.8L966.7,338.6L967.6,336.1L968.3,334.9L970.8,331.9L971.2,329.8L971.1,328.2L969.6,325.5L969.0,323.8L969.2,323.3L970.1,322.1L968.8,317.6L967.4,315.8L967.7,315.3L966.6,312.3L964.3,309.4L961.5,306.5L959.7,304.2L958.0,301.3L958.0,300.4L959.3,298.8L959.4,298.2L1027.6,298.2L1027.4,309.2L1026.8,320.2L1025.8,331.1L1024.5,342.1L1022.5,354.4L1019.7,368.1ZM901.1,501.0L905.4,503.7L904.3,504.6L902.5,505.3L900.5,505.2L898.4,504.6L897.3,504.0L898.2,503.5L895.7,500.3L897.0,499.9ZM904.0,507.7L904.1,507.2L905.1,506.4L906.9,506.4L911.1,506.9L910.4,506.3L910.7,505.8L912.6,505.8L914.5,505.1L917.2,504.6L918.0,504.2L915.8,503.0L915.2,502.4L910.5,502.7L908.1,500.8L908.1,500.4L910.1,499.6L911.4,498.5L911.7,497.8L914.5,497.1L917.3,496.8L921.4,495.0L922.8,493.8L922.7,493.0L921.4,492.6L921.4,491.8L921.9,491.1L924.0,490.3L925.0,489.6L925.7,488.9L926.0,487.9L926.7,487.4L928.2,487.5L928.9,488.2L930.4,488.2L930.3,487.5L930.7,486.7L932.1,486.9L932.6,487.6L934.0,487.8L937.1,487.2L938.5,487.3L939.1,488.1L940.4,487.4L947.0,485.7L948.2,485.3L949.0,484.5L949.9,485.0L951.2,484.8L952.6,486.5L954.1,486.1L954.8,485.3L956.2,484.7L957.8,484.8L958.2,485.6L959.4,484.8L960.8,484.5L963.7,484.5L966.4,484.9L967.3,486.2L968.8,485.8L973.2,485.7L980.2,484.0L981.5,483.4L983.8,481.7L980.2,488.0L976.4,493.9L972.2,499.4L968.4,503.7L964.2,507.6L960.4,510.4L956.2,512.9L952.3,514.5L947.2,515.7L943.9,516.0L937.3,515.7L930.1,515.0L922.1,513.6L915.4,511.9L907.6,509.3L904.0,507.9Z" fill="#808080" fill-rule="evenodd"/>
<path d="M22.8,298.2L22.9,289.9L23.5,280.2L24.5,270.5L25.9,260.8L27.3,252.4L29.5,242.7L32.0,233.0L34.8,223.3L35.1,225.3L35.9,228.4L37.3,231.5L36.7,232.0L36.3,233.8L39.0,236.8L39.2,239.6L38.2,243.0L38.5,246.3L40.6,248.0L41.7,251.2L41.9,253.8L43.1,255.2L43.5,256.4L46.4,257.8L49.7,262.0L50.9,262.8L51.5,263.7L51.3,264.8L49.6,265.5L51.6,266.8L52.0,267.9L53.1,269.1L54.5,269.1L57.1,268.4L60.1,268.0L62.6,267.2L64.0,267.0L65.0,266.5L67.5,266.3L70.2,265.6L71.6,264.7L72.6,264.7L72.2,268.6L71.5,269.6L70.5,272.6L67.1,279.3L64.5,283.3L58.6,290.3L55.8,292.5L51.6,295.3L48.3,298.2M240.0,187.6L239.1,188.9L237.2,189.7L237.7,188.4L236.7,187.3L237.3,185.4L235.5,184.0L234.1,185.0L232.7,186.9L232.3,188.7L230.2,188.8L229.8,190.1L231.8,192.0L233.8,192.5L234.5,193.7L236.7,194.5L238.2,192.5L240.7,193.6L242.2,193.7L243.3,195.2L240.5,196.0L240.2,197.5L238.6,198.9L238.4,200.8L241.5,202.3L243.7,205.1L248.8,209.8L249.7,211.9L248.5,212.6L249.7,214.1L251.5,215.0L252.1,217.3L252.3,219.5L251.1,219.7L249.7,226.4L248.5,229.7L245.8,232.3L242.9,234.7L240.1,235.0L238.8,236.2L237.7,235.3L236.6,236.7L233.3,238.1L230.7,238.5L230.5,241.5L229.1,241.6L227.9,239.6L228.3,238.5L224.6,237.6L221.0,238.8L218.6,245.1L224.3,251.6L227.0,253.4L229.0,255.6L231.1,260.8L231.3,265.7L229.3,267.5L226.3,269.3L224.3,271.7L220.9,274.2L218.4,269.0L216.1,268.6L214.8,267.1L213.1,264.2L210.5,262.9L208.2,263.0L208.4,260.8L206.0,260.8L206.1,263.9L205.0,265.1L205.0,268.0L204.3,270.3L204.6,272.5L206.4,272.5L207.7,275.1L208.4,277.5L210.0,279.1L211.7,279.4L213.2,280.9L213.9,281.1L215.6,282.8L216.8,284.7L216.8,287.8L217.4,290.5L218.4,291.2L219.5,293.7L219.5,294.6L217.5,294.8L211.5,290.5L211.1,289.1L209.5,287.3L209.0,284.9L208.0,283.4L208.2,281.4L207.5,280.2L206.3,279.1L205.8,277.8L204.2,276.2L202.2,276.5L201.8,274.9L202.6,270.5L202.9,266.3L201.8,264.7L201.7,261.6L200.5,260.2L199.1,256.8L198.4,253.3L197.0,251.0L192.5,254.4L191.0,254.2L189.3,253.5L189.8,250.0L189.0,247.4L186.6,244.2L186.8,243.2L185.2,242.8L183.1,240.6L182.1,239.1L181.8,237.7L181.2,236.3L179.9,234.7L177.5,234.6L177.9,235.8L177.2,237.3L176.1,236.7L175.8,237.2L174.0,236.7L173.7,237.7L171.9,237.7L168.9,238.2L169.0,240.4L167.9,242.0L164.2,243.9L161.4,247.2L159.5,248.9L157.0,250.7L157.0,252.0L153.3,253.7L152.1,253.9L151.4,256.0L152.2,261.9L151.1,264.6L151.2,269.3L149.8,269.5L148.6,271.6L149.4,272.5L146.9,273.3L146.0,275.2L144.9,276.0L142.3,273.4L139.9,266.7L137.5,262.7L136.3,257.4L133.9,253.6L132.0,244.6L132.0,241.3L131.5,238.6L127.7,240.3L125.9,240.0L122.6,236.6L123.8,235.6L123.1,234.5L120.2,232.1L118.3,231.4L117.7,229.4L115.8,227.3L111.2,227.8L107.1,227.9L103.5,228.2L93.3,226.4L92.7,223.0L91.6,222.5L89.6,223.0L86.9,224.3L84.0,223.4L81.8,221.3L79.6,220.5L78.4,217.8L77.4,214.1L76.0,214.5L74.7,213.6L73.5,214.7L72.1,214.6L72.0,217.3L72.8,221.0L73.9,221.6L74.1,222.6L75.6,223.8L75.5,224.9L75.1,225.8L75.3,226.8L76.3,229.2L76.5,227.1L77.4,225.7L78.2,225.4L78.8,226.2L78.5,227.9L77.7,229.5L78.5,231.2L80.5,230.8L84.2,230.9L91.0,224.6L91.3,224.8L90.5,226.5L90.5,228.7L91.4,230.6L92.7,231.6L96.0,232.5L97.6,235.0L98.5,235.4L98.4,236.0L96.8,238.4L95.7,239.3L94.5,241.2L93.3,241.1L92.8,241.8L92.2,243.2L92.3,245.0L92.0,245.4L90.8,245.4L89.1,246.4L88.7,247.8L88.0,248.3L86.4,248.3L85.3,249.0L85.2,250.2L83.8,250.9L82.4,250.7L80.5,251.6L79.2,251.8L77.2,252.5L76.6,253.8L76.4,254.7L73.6,255.9L69.2,257.2L66.5,259.2L65.3,259.3L64.5,259.1L62.8,260.3L61.1,260.8L58.1,261.2L57.4,261.9L53.9,263.1L52.0,263.0L51.5,261.4L51.8,259.8L51.2,256.9L51.0,254.4L51.4,253.8L51.3,251.4L50.7,250.6L50.6,249.5L49.4,248.5L48.9,247.3L48.4,246.1L48.1,243.9L46.7,242.0L45.6,241.5L44.4,238.8L44.9,235.2L44.3,232.1L43.4,231.0L42.2,230.5L41.8,228.9L41.8,226.8L41.2,226.2L40.8,224.1L39.3,219.9L38.1,219.9L40.1,215.9L39.0,217.0L37.8,219.1L36.7,220.6L36.0,221.1L35.7,220.6L38.7,211.8L40.2,211.1L42.2,208.7L43.5,206.6L45.8,203.6L47.8,201.6L48.4,199.4L49.3,198.3L49.0,197.0L50.3,196.0L48.8,196.2L47.2,195.5L45.0,197.2L44.3,197.2L49.6,185.0L50.9,181.0L53.9,180.9L57.0,182.9L59.7,184.0L62.3,183.5L64.0,183.8L66.9,182.3L67.5,181.1L67.4,179.2L65.4,177.9L62.8,174.8L60.8,173.7L59.6,172.1L61.2,171.7L62.7,168.4L63.5,169.4L66.0,167.3L66.1,166.7L62.6,167.3L61.0,168.2L59.0,168.3L57.0,169.4L56.6,171.0L57.3,171.7L59.5,171.5L58.8,172.5L56.4,173.0L53.1,174.5L52.9,174.4L58.6,158.4L64.5,144.3L71.2,131.0L78.0,119.6L78.8,120.6L77.0,124.0L79.3,125.3L80.1,124.2L79.8,123.2L81.2,122.3L84.0,123.7L85.5,123.2L85.4,121.5L89.9,119.3L91.1,119.5L92.1,120.2L93.6,118.7L93.1,117.4L94.4,116.1L94.2,114.8L97.5,115.5L97.7,116.7L95.9,116.9L95.3,118.2L96.1,118.9L98.4,118.5L99.4,117.1L108.0,114.2L109.0,114.3L107.2,115.6L108.8,115.8L110.0,115.1L112.5,115.0L114.7,114.1L115.9,115.4L117.8,114.0L116.7,112.8L117.5,112.1L121.2,112.7L122.9,113.4L127.4,115.8L128.4,114.7L127.1,113.6L127.2,113.1L125.6,112.9L126.2,111.9L125.7,110.3L125.7,109.6L128.2,107.8L129.2,106.0L130.1,105.6L133.1,106.1L133.3,107.2L132.1,108.9L132.9,109.5L133.2,111.0L132.9,113.8L134.3,115.1L133.7,116.6L131.0,119.7L132.6,120.0L133.1,119.2L134.7,118.7L135.0,117.6L136.2,116.5L135.4,115.3L136.0,113.9L134.6,113.7L134.2,112.5L135.3,110.5L133.7,108.8L135.8,107.4L135.5,106.0L136.1,106.0L136.7,107.1L136.3,109.0L137.6,109.4L137.0,107.9L139.0,107.1L141.4,107.0L143.8,108.2L142.5,106.5L142.0,104.4L143.9,104.0L146.6,104.1L149.0,103.8L147.8,102.8L148.6,101.6L149.8,101.5L151.5,100.6L154.1,100.3L154.2,99.8L156.8,99.6L157.9,100.1L159.5,99.1L161.4,99.1L161.1,98.3L161.5,97.6L163.1,96.8L165.2,97.4L164.3,97.8L166.7,98.1L167.8,99.0L168.3,98.6L171.2,98.6L174.3,99.5L175.8,100.2L176.5,101.2L174.0,102.8L173.7,103.3L177.3,104.1L178.0,103.7L179.7,105.0L179.7,104.5L181.2,104.2L185.1,104.5L186.3,105.4L191.4,105.7L189.9,104.2L190.5,104.3L196.7,110.3L203.5,117.7L209.6,125.5L215.4,133.7L220.7,142.2L226.2,152.2L232.5,165.3L236.5,174.7L240.1,184.3L241.6,187.1ZM84.1,170.6L82.0,171.1L79.4,173.9L80.7,176.5L80.1,178.3L82.6,183.0L83.3,185.0L84.2,185.1L84.7,185.9L82.9,186.1L81.3,189.3L80.3,189.9L80.0,191.3L80.1,193.4L82.1,193.9L83.3,195.3L86.4,195.8L90.0,195.1L90.4,194.4L90.4,192.4L91.3,189.5L89.8,188.6L90.8,186.7L89.4,186.5L90.4,184.1L92.3,184.8L94.3,184.0L93.0,182.3L92.6,180.7L90.9,181.4L90.3,183.4L90.0,181.0L90.6,179.8L90.4,178.9L88.1,177.9L87.7,175.4L86.7,174.8L86.8,173.9L88.7,174.1L89.1,172.1L90.9,171.7L92.6,172.1L93.4,169.5L93.4,167.8L91.4,167.9L89.8,167.3L87.3,168.4L85.3,169.0ZM82.4,113.2L85.6,113.7L89.1,116.2L89.6,117.2L88.9,118.7L86.7,119.8L84.0,120.4L78.5,118.8ZM156.3,280.2L155.2,280.9L152.8,281.6L151.4,279.4L150.9,275.4L152.0,270.8L154.0,272.4L155.3,274.4L156.7,277.3ZM256.5,234.6L256.1,236.9L254.0,234.6L253.1,232.5L253.6,229.8L254.9,227.6L256.4,228.5ZM229.2,247.5L226.8,246.6L226.3,244.2L227.3,242.9L230.0,242.1L231.5,242.2L232.4,243.3L231.5,244.5L231.2,246.1ZM115.4,92.2L113.0,92.9L112.5,92.5L113.4,92.0L111.7,91.9L114.7,91.6L114.5,92.0L116.2,91.4L117.1,91.7ZM128.8,99.5L121.6,101.3L117.7,103.1L112.9,106.9L112.5,108.6L114.3,110.3L113.4,110.5L109.5,110.2L109.5,109.3L107.5,108.7L107.9,107.6L109.3,107.2L109.7,106.1L112.7,104.4L111.8,104.2L115.2,102.5L115.2,101.6L121.8,99.4L125.2,99.1L127.1,98.4L129.0,98.2L129.6,98.9ZM158.1,94.2L158.6,94.0L159.4,94.1L162.5,95.1L162.8,95.8L158.2,96.4ZM153.2,91.7L156.4,93.2L157.4,94.8L155.7,95.0L152.9,94.5L151.0,93.8L149.7,92.7L148.4,92.3L149.7,91.2L151.1,90.9ZM45.6,198.7L43.6,199.9L43.5,200.6L42.9,200.9L43.4,199.5ZM232.9,298.2L232.7,297.1L233.0,294.5L234.6,292.6L236.7,293.6L238.8,293.1L239.3,290.7L240.5,290.2L243.8,289.6L247.0,285.6L248.0,284.6L250.3,283.0L252.3,281.1L253.5,278.9L254.6,278.9L256.2,280.3L256.4,281.5L260.7,283.1L260.6,284.2L258.7,284.4L259.3,285.7L257.3,286.7L255.8,289.2L258.0,291.9L257.6,293.1L260.7,295.7L257.4,296.1L256.5,298.2M206.2,298.2L205.6,297.7L204.8,295.3L203.8,293.2L201.2,291.4L199.7,289.0L197.6,287.4L194.6,284.4L194.3,283.0L200.4,283.6L203.0,286.3L206.7,289.4L209.4,292.4L212.3,292.4L214.7,294.3L216.3,296.7L218.4,298.0L218.3,298.2M262.9,298.2L263.6,296.7L266.0,294.6L268.2,295.4L271.7,295.8L274.0,295.7L274.0,297.5L273.8,297.6L271.1,297.0L266.5,297.2L264.0,297.6L263.9,298.2M262.2,247.4L262.8,246.7L263.3,247.4L263.1,248.5L264.6,250.5L264.4,252.9L263.0,253.8L263.1,256.0L264.2,258.3L265.7,258.6L266.8,258.2L269.9,259.5L270.6,262.7L269.2,261.9L267.9,260.4L267.4,261.4L265.3,259.8L263.0,260.2L261.5,259.6L261.4,258.4L262.1,257.7L261.1,257.1L261.0,258.1L259.3,256.5L258.7,255.2L258.0,252.6L259.3,253.5L258.5,249.1L258.8,246.6L260.4,246.6ZM272.3,276.4L271.6,277.5L270.3,277.4L268.4,279.0L267.8,278.2L268.7,275.8L270.3,275.0L271.7,274.0L272.5,274.9L272.7,276.7ZM258.9,270.3L257.7,272.2L254.3,274.9L255.5,272.9L257.3,271.2L258.6,269.3L259.7,266.5L260.5,268.8ZM264.0,264.2L260.8,260.7L263.2,260.8L264.3,261.8ZM267.7,265.9L269.4,265.9L269.6,267.1L268.5,268.3L266.9,269.1L266.6,266.4L265.9,265.1ZM270.6,269.6L270.3,272.0L268.7,270.4L269.3,269.6L269.3,267.9L270.8,267.7ZM687.8,265.3L686.9,264.4L683.9,262.2L684.1,261.8L684.6,262.2L684.8,262.0L684.1,261.1L683.2,260.9L683.1,261.5L681.5,261.5L679.1,260.7L677.6,260.5L676.6,259.9L675.1,259.4L673.4,259.4L672.0,258.8L666.3,254.7L664.7,253.8L662.3,253.0L660.8,253.2L659.0,254.3L657.7,254.6L653.5,253.3L650.6,252.0L648.5,251.6L645.1,250.3L642.5,249.0L641.6,248.2L640.0,248.1L637.1,247.2L635.6,245.9L632.3,244.3L630.5,242.6L629.4,241.2L630.2,240.9L629.7,240.1L630.1,239.4L629.8,238.5L626.5,234.7L623.3,231.9L620.0,229.7L618.2,228.0L615.6,226.9L614.9,226.2L614.7,224.5L613.1,223.8L611.2,222.4L609.8,220.5L608.4,220.3L604.8,217.4L604.4,216.6L602.3,214.5L600.6,212.3L600.2,211.3L598.1,210.1L597.3,210.3L595.7,209.5L595.7,210.6L597.6,214.1L602.5,218.0L603.1,219.0L603.5,218.9L604.7,220.7L606.6,222.4L608.6,223.8L610.4,226.4L612.6,228.9L613.3,230.4L614.5,230.5L617.3,233.0L617.4,233.5L616.7,234.6L616.2,234.6L615.0,232.9L612.8,231.3L609.0,229.2L608.4,227.2L607.5,225.7L603.9,223.5L603.7,223.9L602.8,223.2L601.1,222.5L599.1,220.9L599.2,220.7L600.3,220.8L600.8,219.8L600.5,218.5L597.9,216.5L596.2,215.7L591.2,209.9L588.4,206.0L586.3,204.4L585.1,204.1L584.6,203.3L583.2,203.1L582.1,202.4L579.9,202.1L579.1,201.6L578.3,200.1L575.1,197.3L571.9,193.4L571.7,192.8L567.9,189.5L566.8,187.2L565.1,185.7L564.9,183.4L564.2,181.0L563.1,178.9L563.2,176.3L562.4,171.4L561.1,167.8L558.9,164.2L559.0,163.7L562.1,164.6L563.8,167.1L564.1,166.4L563.2,164.2L561.8,162.1L555.4,158.3L551.6,157.3L549.9,154.9L549.7,153.4L547.1,152.3L546.2,150.2L543.5,148.4L543.1,147.1L541.8,146.1L540.0,145.3L538.9,143.1L536.2,141.1L534.6,138.8L530.3,138.6L528.1,137.9L524.2,135.4L519.5,134.1L517.3,134.3L513.9,133.2L511.9,132.2L510.2,132.7L510.7,134.3L508.0,135.0L506.6,135.8L504.8,136.3L504.5,134.9L505.0,132.5L506.7,131.8L506.2,131.2L504.3,132.5L503.2,134.1L501.0,135.8L502.2,137.0L500.7,138.7L497.2,140.5L496.8,141.6L494.0,142.9L493.5,144.1L491.4,145.1L490.2,145.0L485.1,147.3L482.0,148.1L481.8,147.6L485.6,145.7L487.6,144.3L489.8,144.0L490.7,143.0L493.1,141.5L494.8,140.2L495.1,138.3L496.0,136.9L494.1,137.6L493.5,137.2L492.6,138.1L491.5,136.9L491.1,137.7L490.5,136.5L488.8,137.5L487.8,137.5L487.7,136.0L488.1,135.2L487.1,134.3L484.9,134.8L483.7,133.6L482.6,133.1L482.8,131.7L481.7,130.7L482.5,129.4L483.9,128.1L484.6,126.9L485.9,126.7L486.9,127.1L488.2,126.0L489.3,126.1L490.5,125.4L490.3,124.4L489.5,124.0L490.6,123.1L489.7,123.1L488.1,123.6L487.6,124.1L486.5,123.6L484.4,123.9L482.3,123.3L481.8,122.4L480.3,121.1L485.7,119.1L486.9,119.1L486.6,120.2L489.6,120.1L488.6,118.8L486.9,117.9L486.1,116.8L485.0,115.9L483.2,115.2L484.2,114.1L486.5,114.0L488.3,113.1L488.7,112.1L490.2,111.1L493.8,109.9L495.0,110.1L496.9,109.0L498.7,109.4L499.7,110.3L500.2,109.9L502.3,110.0L502.3,110.5L504.2,110.9L505.5,110.7L508.2,111.3L511.7,111.8L513.3,111.5L519.5,112.9L521.9,113.9L523.3,114.1L524.1,113.2L525.4,112.5L527.5,112.8L529.0,111.9L530.8,111.4L532.1,112.2L532.8,111.7L532.6,110.8L533.6,111.0L536.8,112.9L537.6,111.4L538.8,113.0L540.2,112.7L540.2,112.1L541.9,112.2L544.4,113.1L548.0,113.9L550.1,114.2L551.3,114.1L553.9,115.2L552.8,116.2L555.6,116.7L559.0,116.4L559.9,116.1L562.4,117.4L563.0,116.3L560.8,115.3L561.1,114.6L563.5,114.3L567.4,116.0L568.7,115.8L572.1,116.8L573.8,116.4L575.9,116.5L574.4,115.2L575.2,114.8L578.0,115.5L580.1,117.6L579.2,115.8L580.3,115.9L578.6,113.7L573.2,111.6L570.7,109.3L570.3,107.8L572.3,108.1L574.7,109.0L579.3,111.4L579.4,112.4L582.3,112.8L584.9,115.0L584.6,113.3L587.9,114.7L589.4,116.3L592.4,117.8L591.9,116.0L597.3,120.6L598.5,123.1L598.4,124.7L596.4,124.8L596.2,125.8L597.5,127.3L596.0,127.6L595.8,129.5L596.4,132.1L597.3,134.0L599.4,136.8L602.2,137.2L606.9,141.4L609.0,140.9L613.0,141.9L615.5,142.9L617.7,144.1L620.0,144.7L626.7,153.5L633.7,164.0L639.4,173.4L645.2,184.4L656.7,199.7L665.9,213.6L665.4,213.4L662.9,213.8L660.6,213.5L658.9,213.6L658.2,214.1L659.0,214.8L659.6,215.9L660.5,216.5L660.2,216.9L659.1,216.4L658.5,217.0L656.6,216.9L654.0,215.4L652.1,215.8L650.0,215.1L648.6,215.3L646.9,216.0L645.7,218.0L643.9,219.2L643.2,220.6L643.2,221.8L644.8,225.1L645.7,226.0L645.8,228.5L646.3,230.5L647.9,235.6L648.9,237.1L650.2,238.5L651.6,240.6L654.0,242.7L655.2,244.3L656.7,245.7L659.8,246.4L661.3,247.6L663.3,246.8L665.2,246.6L668.5,245.6L669.8,244.4L669.8,242.8L669.1,240.4L669.2,239.6L670.7,238.9L673.1,238.3L675.5,238.4L676.9,238.1L677.8,238.7L678.3,240.1L677.6,241.7L677.7,243.4L678.4,243.9L678.6,247.3L677.7,246.6L677.1,246.6L677.3,247.0L677.8,247.0L678.1,247.8L678.1,249.0L678.4,249.4L678.9,252.1L678.7,252.8L678.2,252.9L678.0,253.9L679.1,254.4L679.1,254.0L680.4,254.5L680.8,254.0L683.6,254.3L685.2,254.0L688.7,266.0ZM565.8,99.1L563.8,99.0L562.1,98.2L563.1,97.8L560.3,96.5L560.6,96.3L562.7,96.7L567.5,99.3ZM561.1,96.0L559.0,95.6L558.3,95.0L558.7,94.8L561.3,96.1ZM555.4,93.3L553.1,92.5L553.7,92.5L555.8,93.4ZM551.6,92.0L549.0,91.5L543.5,89.9L543.8,89.6L545.2,89.3L545.0,89.0L552.6,92.0ZM584.7,111.2L582.3,110.9L580.3,110.2L580.3,109.2L578.6,109.2L575.4,107.2L573.8,105.4L573.8,104.6L575.6,104.2L586.1,111.5ZM545.8,106.4L547.8,105.7L550.4,106.8L550.7,105.7L552.4,106.4L555.3,108.4L555.1,107.5L552.2,105.5L552.9,105.2L554.4,105.5L556.5,106.3L561.2,109.7L567.7,111.7L568.5,112.6L566.5,112.8L568.2,113.6L568.5,114.4L563.0,113.5L561.6,113.6L559.7,114.3L554.4,114.9L553.0,113.9L550.7,113.3L549.7,113.5L546.9,111.8L549.3,111.3L551.2,111.4L552.5,111.0L549.7,110.5L545.3,110.6L544.1,109.9L546.3,109.1L544.4,109.1L541.9,108.5L541.8,107.0L541.9,106.2L544.0,105.0L545.5,105.4ZM535.1,102.8L536.9,103.2L539.8,103.3L543.3,104.7L542.4,105.2L540.7,106.6L540.3,108.0L540.9,108.9L538.3,109.9L537.1,109.0L533.6,107.9L533.5,104.3L531.6,103.1ZM546.9,100.2L547.5,99.9L548.6,100.0L549.9,100.9L550.4,101.8L547.1,102.1L545.3,102.9L543.7,102.9L542.9,102.3L544.2,101.5L539.7,101.7L537.9,101.4L537.5,99.5L537.9,99.0L541.4,99.6L544.5,100.7L546.5,100.9L542.9,99.1L543.0,98.5L544.3,98.7ZM554.4,98.8L556.1,99.4L557.6,100.4L559.1,101.8L557.6,102.0L556.0,101.7L554.6,100.6L553.1,100.7L551.1,99.3L552.2,99.3L552.8,98.7L553.7,99.9ZM536.2,98.3L536.1,98.9L535.3,99.0L534.2,99.8L532.8,100.1L531.1,99.7L531.6,98.3L532.4,97.2L533.9,97.2L534.9,96.9ZM542.8,94.3L546.1,94.9L549.7,96.5L545.5,95.7L543.4,95.6L543.5,95.1L541.8,94.7L540.7,94.1ZM571.2,107.6L569.7,107.5L566.8,105.8L565.5,104.8L565.0,104.0L565.3,103.4L567.7,103.5L570.5,104.0L571.3,105.7L570.5,106.1ZM561.5,104.4L563.1,104.2L564.2,104.7L564.3,105.7L567.1,106.5L569.2,108.3L568.1,109.1L566.7,109.0L560.3,106.6L559.6,106.0L562.2,106.2L559.4,104.9L559.6,104.0ZM564.5,102.6L562.7,102.4L560.7,101.9L560.0,101.1L560.8,100.6L564.0,101.8ZM558.8,98.5L560.7,98.5L562.6,99.1L563.5,99.8L566.7,100.6L570.1,100.8L573.6,102.9L571.6,102.9L565.6,102.1L562.1,100.1L559.8,99.3L557.4,99.1L555.4,98.5L554.6,97.8L556.7,97.9ZM554.8,96.6L556.3,97.1L554.0,97.1L552.9,96.6ZM556.6,93.8L557.4,94.1L557.3,94.5L558.3,95.8L556.9,95.9L554.6,95.7L552.4,95.0L551.2,94.4L551.0,93.9L549.5,93.9L545.5,92.6L544.2,91.4L544.7,91.3L543.6,90.9L545.2,90.8L548.1,91.7L552.2,92.4ZM601.6,126.0L601.7,124.8L600.4,123.5L602.9,125.8ZM571.0,112.4L570.9,111.5L574.1,112.4L576.6,113.6L576.6,114.4L574.1,113.7L573.3,114.0L570.5,113.0ZM552.1,158.0L555.2,158.6L557.4,160.8L559.7,161.9L560.9,163.4L560.1,163.7L556.5,162.5L555.7,161.6L553.7,160.7L553.1,159.9L551.1,159.5L549.9,158.0L549.9,157.4ZM539.7,149.0L541.4,148.8L541.6,151.7L543.7,153.8L543.0,153.8L541.6,152.6L540.6,151.4L539.5,150.6L538.9,149.5L538.8,148.7ZM501.2,142.2L500.3,141.6L500.0,140.4L502.4,139.2L503.5,139.4L504.3,140.1L502.8,141.3ZM498.8,245.4L498.1,245.1L498.2,244.3L497.8,243.3L498.3,242.5L498.2,242.0L498.3,241.7L500.0,242.5L501.1,243.8ZM496.9,240.8L496.1,240.0L496.4,239.6L497.9,240.3L497.7,240.6ZM493.5,238.9L492.4,238.8L492.0,238.0L492.7,237.6L493.6,238.7ZM489.0,237.2L488.1,236.6L488.6,236.2L489.2,236.3L489.3,236.9ZM495.9,239.4L494.5,239.4L494.7,239.0L496.0,239.1ZM474.9,125.8L475.8,125.6L477.0,126.2L478.4,126.5L477.0,127.3L475.4,126.3L474.1,126.5L473.7,126.3L474.0,125.4ZM481.0,134.9L479.1,133.8L480.8,133.4L482.1,133.6L482.1,134.5ZM540.1,96.3L540.4,96.8L539.3,97.3L537.2,96.8L537.3,96.2L538.4,96.0ZM538.8,95.2L538.2,95.6L536.7,95.6L536.4,95.3L536.6,94.8ZM409.0,104.6L410.8,104.5L410.9,105.6L409.4,106.9L407.4,107.7L406.5,109.3L407.2,110.1L411.5,108.0L412.1,108.9L415.0,108.3L416.5,109.0L418.1,108.4L419.7,108.7L421.3,106.8L424.0,106.0L433.0,107.3L432.7,108.4L434.3,110.0L439.7,109.6L441.8,110.0L442.1,110.8L440.7,112.4L441.8,112.9L443.9,112.5L446.2,112.5L448.3,112.9L450.9,112.6L452.0,114.5L454.1,113.9L453.8,112.5L455.0,111.6L458.7,112.1L461.4,112.0L464.7,113.0L468.7,115.6L471.5,117.7L471.0,119.1L471.7,119.6L471.9,118.1L475.6,118.4L477.8,120.4L476.2,121.4L473.8,121.6L473.2,123.9L472.5,124.3L471.1,124.3L470.2,123.5L468.4,122.8L468.4,121.8L467.1,121.5L465.3,121.8L464.8,121.0L465.4,120.2L463.5,120.7L463.8,121.7L462.6,122.7L460.3,123.7L458.5,123.5L459.3,124.7L459.5,126.6L460.0,127.3L459.9,128.2L459.2,128.8L456.5,128.3L451.5,130.1L450.0,130.4L443.9,133.5L442.8,134.6L433.8,134.9L431.7,134.6L430.4,136.2L427.2,138.5L426.7,139.5L428.4,140.0L426.4,143.7L424.8,143.8L423.0,145.8L423.3,146.9L419.5,148.2L417.5,151.1L414.5,151.7L412.7,154.4L408.9,156.8L409.1,155.0L409.6,153.1L412.1,145.6L414.8,142.1L417.1,140.7L417.8,139.5L420.8,139.0L429.6,133.5L433.6,131.6L436.6,128.3L434.7,128.4L432.6,130.4L427.1,133.0L427.5,130.1L423.0,130.9L416.4,134.8L416.8,136.3L410.0,137.2L411.2,135.5L409.0,135.1L406.1,136.3L401.4,135.9L395.4,136.6L375.0,147.2L377.6,147.6L377.3,149.1L378.6,149.7L380.7,148.5L382.5,148.6L383.3,151.4L381.9,153.6L378.8,156.2L376.8,159.3L373.4,163.5L368.2,167.4L366.5,169.2L355.4,177.2L351.8,178.8L350.5,178.8L349.9,177.5L346.0,179.5L345.2,180.4L344.5,180.3L343.0,181.2L341.9,182.1L340.9,184.1L337.1,186.1L335.3,186.5L333.7,187.3L332.1,188.8L332.6,189.3L332.8,190.5L332.1,193.8L331.2,195.6L328.8,198.8L326.8,200.3L324.3,200.9L321.6,202.0L319.3,202.3L320.2,200.8L322.3,198.7L323.6,195.7L325.6,195.3L326.1,192.9L325.5,192.4L324.8,192.9L323.9,193.1L324.3,192.6L323.7,191.9L326.2,190.3L326.4,189.8L328.3,188.3L328.5,187.9L327.2,186.8L325.8,187.1L328.2,184.3L334.9,173.3L342.3,162.6L349.4,153.5L357.1,144.6L364.1,137.3L370.4,131.3L377.0,125.5L384.0,119.9L392.9,113.4L400.9,108.2L407.6,104.3ZM337.3,203.9L334.9,205.6L334.5,204.7L332.9,205.3L331.1,207.0L330.2,206.2L331.1,204.9L333.5,203.2L334.6,203.5L336.3,202.3L337.7,202.9ZM355.3,196.8L354.8,198.2L352.4,200.2L348.6,201.5L344.5,201.6L339.0,204.9L338.2,203.8L339.5,201.7L335.1,202.3L331.4,203.6L328.7,203.7L329.6,205.7L324.8,210.5L322.6,211.6L322.1,210.6L324.4,208.0L323.4,207.2L323.9,205.3L326.6,204.5L329.1,202.7L332.5,201.3L335.5,199.4L340.6,198.5L342.7,199.1L348.5,194.1L349.0,195.5L356.2,191.6L360.0,188.2L361.9,185.0L363.7,183.3L366.2,182.8L366.0,184.0L365.0,186.6L363.4,188.9L359.5,191.7L357.6,194.6ZM376.2,175.6L378.2,174.5L377.2,177.6L373.8,178.3L370.7,181.0L368.3,179.2L365.8,182.2L363.4,182.2L364.5,179.5L366.5,177.4L368.8,177.2L371.3,173.4L372.9,171.3L373.9,174.1L375.0,175.1ZM383.1,162.1L380.7,161.2L377.4,165.1L377.8,167.8L376.8,169.7L376.2,168.1L373.8,170.2L374.6,167.9L376.2,165.3L377.6,162.4L379.2,160.4L381.3,156.9L381.8,154.4L384.2,150.9L386.7,149.7L386.8,148.5L387.8,148.2L386.2,152.3L384.6,154.8L383.8,157.5ZM434.2,99.7L436.4,100.7L433.6,102.1L429.7,102.1L427.3,102.5L427.1,101.3L429.7,100.0L431.7,99.6ZM439.1,101.1L441.1,101.6L438.9,102.4L437.4,102.2L436.5,101.5L437.6,100.8ZM429.2,104.7L428.6,105.2L424.8,104.9L426.9,104.1L428.6,104.0ZM466.5,109.5L468.7,108.5L469.7,108.5L471.2,109.1L471.0,109.4L469.5,109.9L466.4,110.1ZM274.9,295.7L277.8,293.7L278.2,294.3L275.9,297.0L274.0,297.5L274.0,295.7ZM284.8,298.2L284.2,295.4L284.9,293.2L285.8,292.2L285.9,293.7L287.6,294.0L287.8,295.1L287.6,297.5L286.2,297.2L285.9,298.2M281.0,259.8L280.2,261.3L280.9,262.0L280.2,263.2L279.5,262.7L280.5,259.5ZM283.6,276.6L283.5,278.2L282.1,280.7L281.6,277.9L280.0,279.3L280.6,281.4L279.6,282.7L276.6,281.1L276.1,279.0L277.2,277.7L276.0,276.7L276.4,274.9L276.6,275.3L278.8,274.5L279.5,273.2L281.5,273.2L281.8,271.0L283.7,272.3ZM283.8,264.3L283.7,267.4L281.8,266.7L281.6,267.6L281.8,269.3L280.4,270.0L280.8,268.0L280.0,267.9L280.0,266.2L281.5,266.4L281.8,265.3L280.8,263.2L283.4,263.2ZM709.5,298.2L710.1,297.2L709.9,296.1L711.4,295.5L713.3,294.4L713.0,293.5L714.0,293.3L714.0,291.9L714.7,290.9L716.1,290.7L718.5,287.5L717.5,286.8L718.2,285.2L717.8,282.7L718.5,281.9L718.3,279.6L717.4,278.1L716.6,277.3L716.2,275.8L717.0,275.0L716.3,274.8L716.0,273.9L714.7,273.1L713.5,273.3L712.8,274.3L711.5,275.0L710.9,275.1L710.6,275.7L711.7,277.2L710.4,278.0L709.1,278.1L708.8,276.4L708.4,276.9L707.5,276.7L707.1,275.6L705.4,275.1L704.2,275.1L704.0,275.7L703.7,275.3L702.4,274.7L701.9,274.1L702.3,273.6L702.3,273.0L701.7,272.3L699.8,271.4L699.8,270.6L699.2,270.1L699.2,270.9L698.5,271.6L698.0,270.8L697.2,270.5L696.9,270.0L697.2,269.1L697.7,268.2L697.0,267.8L697.8,267.3L696.6,266.0L700.1,254.0L700.9,253.6L702.3,253.9L703.6,253.6L705.1,254.0L706.4,255.2L707.2,255.6L707.7,256.4L707.1,257.3L707.0,258.3L706.1,259.3L705.5,260.4L704.8,263.6L704.3,263.9L703.8,265.1L703.8,265.8L703.0,266.5L703.0,267.3L703.7,269.2L706.4,272.5L706.2,273.1L707.3,273.3L707.6,273.0L708.2,273.7L709.6,273.5L710.9,272.8L712.7,272.3L713.8,271.4L715.3,271.6L715.1,271.9L716.6,272.0L717.8,272.4L719.5,274.1L720.9,274.1L723.2,272.2L724.4,271.9L725.6,268.6L727.4,267.3L729.1,267.3L729.4,266.7L731.6,266.9L735.2,264.9L736.8,263.5L737.7,263.7L738.3,264.4L737.3,266.0L735.7,266.4L736.3,267.6L736.0,269.1L734.6,270.7L735.2,272.9L736.5,272.7L737.4,270.7L736.7,269.8L736.9,267.6L740.5,266.5L740.4,265.2L741.6,264.3L742.2,266.3L744.1,266.3L745.6,267.9L745.5,268.8L750.9,268.5L752.3,269.8L754.4,270.1L756.0,269.3L756.2,268.6L762.9,268.3L760.5,269.2L761.2,270.5L763.4,270.7L765.3,272.1L765.5,274.3L766.9,274.2L769.6,275.9L771.1,277.7L771.1,279.2L772.1,279.2L774.5,281.6L777.8,282.1L778.1,281.6L780.4,281.4L783.3,282.2L786.3,283.1L789.1,285.5L789.5,286.6L790.4,286.5L792.5,292.9L794.0,293.4L794.0,295.3L791.9,297.6L792.5,298.2M796.4,114.3L799.5,112.0L802.6,112.5L803.1,113.5L801.9,114.6L799.6,115.7L799.2,116.9L797.9,118.0L793.5,119.5L791.1,119.8L790.4,119.2L788.1,120.6L793.4,116.0ZM765.6,144.8L766.6,145.8L771.2,146.2L769.3,148.4L768.0,150.9L767.4,153.8L768.6,156.3L770.6,155.4L773.3,152.8L775.0,148.7L774.6,147.4L778.3,146.2L781.5,144.5L783.7,142.7L784.7,141.1L785.1,139.0L784.5,137.2L788.4,134.6L789.5,132.5L792.1,128.8L793.6,128.3L797.1,129.1L798.9,128.5L799.7,129.3L800.6,130.6L800.4,131.6L803.1,131.7L801.6,133.7L800.1,136.8L801.4,137.2L801.6,138.6L804.9,137.2L808.2,134.6L810.0,133.5L809.9,135.6L810.5,141.6L809.0,143.2L810.6,144.6L811.4,146.1L813.9,146.7L814.7,147.5L814.5,149.7L815.7,150.0L816.1,151.0L815.0,153.8L811.6,155.7L808.1,156.7L804.8,158.8L801.4,159.2L797.6,158.7L792.7,158.8L790.2,160.7L787.2,161.9L779.2,167.9L781.1,167.4L785.9,163.9L791.0,161.7L794.0,161.5L795.2,162.8L792.5,164.5L791.7,169.4L793.8,170.8L797.3,170.4L800.4,167.4L799.8,169.3L800.8,170.3L797.6,172.1L792.5,173.7L790.1,174.8L787.0,176.8L785.6,176.6L786.4,174.2L790.8,172.0L787.5,172.1L785.1,172.4L785.1,173.3L782.4,174.6L777.4,176.4L775.0,178.6L774.4,180.1L774.5,181.6L775.3,181.6L775.5,180.6L775.9,181.3L775.4,182.0L773.8,182.5L772.8,182.5L768.8,183.2L766.7,184.0L770.1,183.5L770.5,184.0L767.1,184.8L765.8,184.8L766.0,184.5L764.9,185.3L765.4,185.4L763.7,187.4L760.7,189.6L761.0,188.8L760.6,188.7L760.4,188.0L759.8,189.5L760.1,190.0L759.4,191.1L755.4,194.4L755.2,194.3L757.1,192.4L756.7,191.3L758.0,189.0L756.8,190.2L756.0,192.0L754.9,191.5L755.8,192.4L754.2,195.1L754.8,195.3L753.0,199.0L750.3,201.1L747.4,201.9L744.9,203.5L743.7,203.7L741.8,204.8L741.0,205.7L737.3,207.5L733.0,210.5L731.5,212.5L730.8,214.4L730.3,216.8L730.3,218.8L729.7,220.0L729.2,223.2L727.5,226.2L726.1,227.9L725.2,228.2L724.1,227.9L724.3,226.7L723.6,226.0L723.5,221.5L723.7,220.4L725.3,218.6L725.4,217.0L724.9,214.7L724.2,214.3L721.0,215.5L720.6,215.4L720.3,214.1L719.4,213.6L728.6,199.7L740.1,184.4L747.5,170.6L755.0,158.7L761.4,149.7L765.3,144.7ZM870.8,87.9L873.0,87.9L874.3,87.4L876.6,87.3L881.4,87.4L885.0,88.6L883.6,89.2L877.1,89.4L877.3,89.7L879.9,89.5L881.9,90.0L883.4,89.6L883.8,90.1L882.8,91.0L888.4,89.8L890.6,90.1L891.1,90.8L888.0,91.9L887.6,92.3L885.0,92.6L886.8,92.7L885.0,95.0L884.8,96.9L885.9,98.1L884.4,98.2L882.7,98.7L884.4,99.7L884.5,101.3L883.4,101.5L884.6,103.1L882.2,103.3L883.4,104.0L882.9,104.7L879.7,105.0L881.0,106.4L880.9,107.3L878.7,106.5L878.0,107.0L879.5,107.5L880.9,108.7L881.2,110.4L878.9,110.8L876.7,108.8L876.9,110.2L875.3,111.3L880.3,111.5L872.7,115.0L868.6,115.7L867.1,115.8L865.5,116.6L862.9,118.9L859.4,120.4L854.0,121.6L852.3,123.0L851.6,124.6L850.3,126.1L847.1,127.9L847.1,129.8L844.0,134.0L841.7,134.2L840.1,132.2L836.9,132.2L835.9,130.9L835.9,128.6L834.7,125.8L834.7,124.3L835.7,122.2L834.9,120.2L836.4,118.5L835.9,117.8L838.9,115.2L841.4,114.4L842.5,113.6L843.8,111.9L839.6,113.3L838.5,112.6L839.4,111.2L840.7,110.1L841.9,110.0L844.1,110.6L842.3,108.6L840.9,108.9L840.2,108.4L843.1,106.5L843.0,105.7L843.8,102.3L843.2,101.6L844.0,100.8L842.4,99.7L840.5,99.6L835.0,99.8L834.6,99.2L834.6,98.1L840.0,97.4L836.6,96.9L835.6,96.2L836.8,95.5L845.9,93.9L847.2,93.3L846.0,92.7L847.8,92.0L853.7,90.8L854.6,90.1L859.5,89.4L861.7,89.4L861.8,89.9L864.8,89.0L865.7,89.6L866.5,89.7L867.5,90.2L866.7,89.4L867.6,88.7ZM890.2,120.8L891.9,122.3L890.0,124.1L884.4,126.1L878.3,125.0L879.9,124.0L876.8,122.9L879.4,122.5L879.4,121.8L876.4,121.3L877.6,119.8L879.8,119.5L881.8,121.0L884.1,119.8L885.8,120.4L888.2,119.2L890.5,119.4ZM908.8,140.2L910.4,139.9L912.3,139.9L912.2,141.9L911.0,144.1L912.8,144.3L915.1,147.5L916.4,147.9L918.7,151.8L921.0,152.3L921.1,154.0L920.2,154.7L921.2,156.1L919.8,157.4L917.2,157.4L914.1,158.1L913.2,157.6L912.1,158.8L910.3,158.5L909.0,159.5L908.0,159.0L910.5,156.3L912.1,155.7L909.1,155.3L908.4,154.2L910.3,153.4L909.1,152.1L909.2,150.4L912.0,150.6L912.0,149.1L910.6,147.5L908.4,147.1L907.8,146.4L908.3,145.3L907.7,144.6L906.9,145.8L906.5,143.4L905.5,142.1L905.8,139.6L906.8,137.6L908.2,137.8L910.2,137.6ZM906.7,151.3L905.5,153.5L902.4,155.1L899.7,154.7L901.0,152.0L899.9,149.4L903.4,146.2L904.9,146.1L907.0,147.7L906.2,149.4ZM856.0,88.2L857.0,88.3L857.4,88.7L856.7,89.2L850.2,90.5L851.8,90.5L846.2,91.9L842.5,93.2L839.1,93.8L836.2,94.0L837.0,94.2L835.9,94.5L835.1,95.4L827.1,97.7L826.5,98.1L828.3,98.0L827.6,98.5L823.1,99.6L821.4,99.1L817.8,99.3L822.6,96.7L823.1,97.1L824.0,96.1L826.6,94.8L829.3,94.0L829.5,93.4L831.6,92.5L833.4,92.7L835.9,92.1L832.8,92.0L840.4,89.0L842.3,88.8L841.9,89.2L844.6,88.4L847.6,88.0L849.7,88.0L849.7,88.1L852.1,87.9ZM822.2,110.7L822.5,111.5L821.8,113.5L818.5,114.5L820.3,115.9L822.1,116.3L822.4,118.3L824.5,118.5L822.9,120.0L818.4,122.6L817.4,121.7L816.8,119.5L814.8,119.8L813.5,121.1L814.0,122.4L815.2,123.4L815.3,124.0L814.7,126.3L813.0,128.0L811.5,127.3L809.1,125.5L810.3,128.9L810.0,129.7L806.4,128.8L804.1,127.4L803.2,126.3L804.3,125.6L801.8,123.4L801.3,124.0L796.7,124.4L796.1,123.6L798.7,121.9L804.7,121.6L805.0,120.8L806.5,119.7L810.3,117.6L811.1,115.9L810.1,114.8L808.2,114.1L809.6,113.6L809.7,112.2L808.7,112.1L808.6,111.4L807.1,112.0L804.5,112.3L800.4,111.8L799.3,111.5L807.2,105.8L806.6,106.6L810.1,105.0L814.1,104.2L813.2,106.2L811.2,107.5L814.4,107.0L816.5,106.2L817.8,107.2L818.3,108.1L817.4,109.0L820.2,108.5L820.0,109.9ZM810.4,104.1L808.8,104.8L809.8,104.2ZM817.4,100.5L821.2,100.4L821.2,101.1L820.2,101.9L818.8,102.4L816.5,102.8L815.5,102.6L811.8,102.9L815.2,100.8ZM828.7,94.0L827.9,94.1L828.7,93.8ZM788.2,122.1L789.3,121.8L789.5,122.4L791.3,123.9L790.4,125.0L791.7,124.8L792.0,125.5L790.0,126.3L788.1,125.7L788.3,124.7L782.3,127.1L783.1,125.7L782.5,125.8L784.9,123.5L788.2,121.0L789.0,121.2ZM808.5,116.0L807.1,117.2L805.6,117.9L803.9,118.0L804.7,116.9L806.6,115.7L808.1,115.4ZM787.5,127.4L787.0,127.9L784.0,129.2L783.0,129.1L783.2,128.5L785.4,127.4ZM789.9,129.2L788.2,130.4L787.7,130.2L787.9,129.5L789.4,128.6L789.6,128.6ZM810.5,159.9L812.1,159.0L813.2,159.6L812.2,160.5L813.6,161.2L814.7,160.6L816.4,161.4L815.1,163.3L816.6,162.9L816.4,165.9L814.9,168.3L813.9,168.4L812.8,167.9L814.0,165.7L813.5,165.4L810.4,167.7L809.3,167.6L811.1,166.3L809.5,165.7L803.5,165.8L803.5,165.0L805.1,164.1L804.5,163.3L806.8,161.7L810.4,157.5L812.2,156.1L814.1,155.2L815.0,155.3ZM796.6,159.5L798.8,160.2L800.3,161.3L800.2,161.8L799.2,161.8L797.1,161.0L795.9,159.8ZM793.7,168.6L795.0,169.0L796.9,168.9L795.5,170.0L794.6,170.2L792.6,169.0L792.4,168.1L793.5,167.3ZM720.8,233.7L722.8,233.7L724.8,234.7L725.4,235.7L727.9,235.4L731.2,239.1L732.1,239.0L733.4,239.6L732.9,240.4L734.8,240.5L736.4,241.6L735.8,242.3L734.0,242.7L732.2,242.8L730.4,242.6L726.6,242.8L728.9,241.3L728.1,240.6L726.5,240.4L725.9,239.6L725.9,238.0L724.4,238.1L722.3,237.3L721.8,236.7L718.6,236.3L717.9,235.8L719.2,235.1L716.7,234.9L714.2,236.4L713.1,236.4L712.5,237.1L711.0,237.4L710.1,237.1L711.8,236.3L712.8,235.3L715.8,234.1L718.7,233.5ZM740.2,242.8L742.3,243.2L742.8,242.8L744.8,242.8L746.2,243.5L746.9,243.4L747.1,244.4L748.5,244.4L748.2,245.2L749.3,245.3L750.3,246.3L749.0,247.4L747.9,246.8L745.9,246.8L745.2,247.3L744.1,247.5L743.9,246.8L742.9,247.2L741.3,249.1L740.8,248.7L740.9,247.9L739.3,247.4L738.0,247.6L736.4,247.4L735.0,247.9L733.8,247.1L734.4,246.2L738.6,246.8L739.8,246.1L738.9,244.9L739.3,243.9L737.8,243.4L738.6,242.7ZM727.4,246.9L728.6,247.6L728.8,248.3L726.9,248.4L726.0,248.8L724.6,248.4L723.4,247.4L724.0,246.8L725.1,246.6ZM756.9,246.8L757.2,247.4L756.4,248.1L752.8,248.1L753.0,247.0L753.5,246.6ZM730.8,232.1L730.9,230.5L730.3,229.6L731.6,227.9L732.3,228.0L732.2,230.3L731.5,231.9ZM731.4,224.5L731.8,223.5L733.0,223.3L734.6,223.3L734.4,224.1ZM735.1,226.0L734.8,225.7L735.5,224.2L734.9,223.1L735.1,222.8L736.4,224.0ZM765.1,267.9L765.7,267.9L765.2,270.0L762.9,270.3L762.5,270.1L763.4,269.3L763.5,268.2ZM959.4,298.2L959.9,295.4L960.7,295.3L960.3,291.9L960.7,289.7L959.5,287.8L958.2,287.4L956.9,285.7L956.9,284.9L954.0,285.9L953.0,285.8L951.9,286.4L949.7,286.4L948.1,284.6L947.2,282.6L945.1,280.7L940.6,280.8L938.3,281.1L934.0,282.3L930.3,284.3L927.8,285.1L925.3,284.3L924.0,284.4L922.1,283.8L920.3,283.8L917.0,284.3L912.3,286.1L911.1,286.1L908.2,284.8L905.7,282.6L903.3,281.1L901.4,279.3L898.6,278.0L897.2,276.5L896.7,275.5L896.3,273.4L894.0,270.6L892.6,269.8L892.3,268.5L891.9,267.9L889.7,266.3L888.5,266.1L887.9,264.9L887.1,264.3L886.4,261.5L886.8,260.3L885.7,258.1L884.3,257.1L885.5,256.6L886.8,254.7L887.5,253.2L887.2,251.7L888.0,250.3L888.3,247.7L887.7,243.6L888.0,242.2L887.3,240.8L885.9,239.6L886.2,237.2L887.2,236.4L888.0,234.9L887.8,234.0L888.7,232.0L890.1,230.3L891.0,229.8L891.7,228.2L891.7,226.7L892.6,225.0L894.2,224.0L895.7,221.1L897.0,220.0L899.3,219.7L901.1,217.8L902.3,217.0L904.2,214.7L903.4,211.2L904.4,207.4L905.8,205.5L909.6,203.0L911.4,198.4L913.1,198.4L914.6,199.6L916.7,199.4L919.2,200.1L920.2,200.1L922.1,198.6L924.5,198.1L925.7,196.9L927.7,196.1L935.1,195.3L936.3,195.8L938.2,194.7L940.5,194.6L941.6,195.3L943.1,195.1L945.2,194.0L946.8,194.3L947.2,195.8L948.8,194.7L949.1,195.3L948.4,196.6L949.7,198.6L950.0,201.0L948.9,202.4L949.7,203.9L950.9,204.0L951.9,205.3L952.9,205.8L955.9,206.7L956.8,206.5L958.9,207.0L962.4,208.2L964.2,210.7L970.2,212.4L973.2,213.8L974.2,213.0L974.9,211.8L973.7,209.6L973.9,208.3L975.2,207.0L976.7,206.6L980.1,207.1L981.3,208.4L982.2,208.4L985.6,209.2L986.5,210.1L989.7,210.1L996.2,212.1L997.7,211.2L998.4,210.4L1000.4,210.2L1002.2,210.5L1003.5,211.9L1003.6,211.0L1005.8,211.7L1007.7,211.8L1011.5,220.6L1009.3,218.9L1005.9,214.9L1005.7,215.2L1007.9,218.1L1012.5,223.3L1015.7,231.6L1018.4,239.9L1022.6,255.2L1024.8,266.3L1026.4,277.4L1027.3,288.5L1027.6,298.2M957.3,119.0L958.6,119.6L963.9,126.3L968.8,133.4L974.1,141.8L978.3,149.4L982.3,157.1L986.0,165.0L990.0,174.4L988.9,174.0L988.9,172.7L986.3,171.9L986.5,171.4L988.0,170.5L987.2,169.9L983.8,169.2L983.3,168.2L981.5,168.5L981.4,170.0L980.6,172.0L980.9,172.7L979.5,173.0L980.1,176.3L979.4,177.5L979.3,179.4L981.1,182.1L983.2,183.0L983.1,183.7L980.6,183.8L979.0,186.2L977.6,184.9L977.5,184.3L975.0,184.0L972.6,184.7L974.8,186.3L973.9,186.7L972.7,186.7L971.0,185.3L970.9,185.9L972.1,187.6L973.7,188.9L973.2,189.5L976.4,191.6L977.1,193.1L974.7,192.4L976.0,193.8L974.7,194.1L976.5,196.6L975.1,196.6L972.8,195.4L969.9,191.3L966.8,188.4L965.6,186.8L964.0,185.9L963.3,184.6L963.0,181.8L962.6,181.4L960.2,179.7L958.0,178.7L956.5,177.7L954.4,176.9L952.9,175.8L951.1,172.6L949.7,172.2L949.3,173.3L948.5,172.4L948.4,171.4L948.8,171.2L947.1,170.8L945.7,171.8L946.1,173.1L946.0,173.9L947.0,175.3L949.3,176.7L950.8,178.9L953.7,181.1L956.0,181.8L955.5,182.3L959.4,184.1L961.7,185.6L962.1,186.1L962.1,187.1L960.4,185.8L958.4,185.4L958.2,187.2L960.1,188.2L960.4,189.7L959.6,189.8L959.2,192.2L958.4,192.4L958.3,189.5L955.7,186.5L954.7,186.1L953.6,184.9L952.1,184.4L951.0,183.3L949.4,183.1L947.5,181.9L943.4,178.5L942.2,175.7L939.3,174.5L937.5,176.2L936.7,176.4L935.1,177.9L930.9,177.2L928.0,178.1L928.4,181.3L926.7,183.2L924.0,183.8L924.0,184.7L923.0,186.3L922.5,188.5L923.7,190.1L922.6,191.4L922.5,193.2L920.9,193.8L919.6,195.9L914.6,195.9L913.3,196.9L912.6,197.9L911.5,197.7L910.5,196.7L909.8,195.1L907.6,194.7L906.8,195.4L904.5,195.3L904.6,193.2L904.3,191.4L903.3,191.2L902.7,190.1L902.7,188.3L903.6,186.2L903.9,184.5L903.1,181.4L903.1,179.4L902.2,178.2L905.0,176.2L907.6,176.7L910.3,176.7L912.6,177.2L917.6,177.1L918.5,175.5L918.2,170.1L915.8,167.2L914.2,165.9L911.1,164.9L910.7,162.9L913.1,162.3L916.4,163.0L915.4,160.0L917.4,161.1L921.5,159.1L921.7,156.9L924.7,155.9L925.5,155.2L926.3,151.4L928.6,150.3L930.1,150.4L930.3,149.9L932.3,150.3L933.2,149.0L932.5,148.1L932.0,146.7L930.9,145.3L930.2,142.7L930.5,141.3L932.0,141.2L932.4,140.5L933.5,139.8L933.9,141.0L933.6,141.8L934.1,142.5L935.1,142.9L935.0,143.9L934.4,143.6L933.7,145.4L934.5,146.6L934.8,147.6L936.8,148.2L937.0,149.1L938.7,148.6L939.5,147.9L941.9,148.9L943.0,149.7L944.0,149.0L948.3,146.9L950.2,147.4L950.6,148.0L952.3,148.0L952.3,146.9L954.4,146.1L953.2,144.0L952.4,142.1L952.5,140.6L953.8,139.7L956.0,141.5L957.3,141.5L956.2,138.2L955.8,138.5L954.3,137.6L953.4,136.2L955.2,135.5L957.0,135.2L959.0,135.6L960.7,135.5L961.8,134.2L959.4,133.1L956.6,133.3L954.2,134.1L951.8,134.6L950.2,133.3L948.3,132.6L947.4,130.2L945.6,128.1L945.6,126.8L946.1,125.3L948.0,122.9L948.7,122.4L947.9,121.4L945.2,120.4L943.2,121.0L942.7,122.6L943.8,124.0L942.4,125.8L940.5,127.8L940.9,131.1L942.8,132.7L944.9,134.1L944.6,136.8L943.1,137.4L944.2,141.5L944.1,143.8L941.9,143.6L941.6,145.5L939.5,145.7L938.2,143.3L935.8,140.5L933.4,137.0L931.8,135.5L929.4,138.4L927.3,138.9L924.6,137.7L923.3,135.1L921.2,129.6L922.2,128.1L925.6,126.2L927.6,123.8L928.9,120.7L930.2,116.4L933.4,112.1L935.6,111.2L937.8,111.3L938.4,109.6L940.7,109.7L942.5,109.3L947.8,110.8L946.6,111.4L949.2,112.7L949.9,112.0L953.1,113.2L958.0,118.8ZM998.0,197.5L995.4,196.0L993.0,195.9L993.0,197.0L991.6,197.4L988.7,195.9L986.3,195.9L983.7,193.2L981.4,191.6L981.4,189.4L979.5,188.1L980.5,185.4L983.8,185.3L983.8,183.2L988.0,183.6L989.8,181.8L992.5,181.0L994.1,185.0L1000.7,197.2ZM914.0,92.9L915.2,92.8L921.1,94.6L919.6,95.3L920.3,96.6L919.8,96.9L920.7,98.4L919.6,98.5L916.6,97.4L916.9,96.8L915.1,96.3L912.2,94.8L910.4,93.5L912.1,92.9L913.1,93.4L914.3,93.4ZM924.8,97.3L922.7,96.9L922.9,96.4L921.7,95.9L923.2,95.5L924.3,96.2L926.1,96.6ZM915.0,92.4L916.9,91.9L918.6,92.3L918.7,91.8L923.7,92.8L923.7,93.7L921.5,93.9L918.6,93.6L918.0,93.1L916.7,93.1ZM957.7,193.8L958.3,194.6L958.3,196.0L956.2,195.0L951.5,193.3L951.3,191.8L954.0,192.1L957.7,191.5ZM943.4,185.2L944.1,188.9L943.1,188.7L942.5,189.6L941.5,188.9L940.4,185.5L939.6,184.0L940.8,184.1L941.7,183.2ZM941.6,182.8L940.6,182.2L939.7,180.3L940.0,179.3L941.1,178.2L941.9,180.6ZM980.2,199.5L981.9,199.4L983.7,199.6L983.9,200.1L985.0,199.7L985.0,200.6L981.8,200.8L981.7,200.3L978.6,199.8L978.6,198.6ZM1000.0,200.1L1000.0,199.5L1001.8,199.5L1002.5,200.9L1001.2,201.8L999.9,201.4L998.8,200.3ZM938.9,145.0L938.5,147.1L936.2,145.7L935.6,144.6L937.9,143.8ZM48.3,298.3L46.0,300.8L44.8,302.9L42.8,304.1L41.1,305.4L40.9,307.4L39.6,310.4L38.6,311.3L37.7,314.7L40.0,317.3L39.6,319.7L39.9,320.6L40.0,321.9L42.9,326.4L44.0,327.1L44.7,328.3L45.8,333.5L47.3,337.9L48.2,339.3L47.5,343.2L46.3,344.9L41.7,347.3L39.8,350.3L38.9,350.8L37.9,352.8L37.1,353.5L37.7,355.5L41.8,359.9L43.0,362.6L44.0,364.4L44.2,365.6L43.6,366.6L41.2,368.1L36.5,358.5L33.1,350.3L29.6,340.7L27.3,332.5L25.1,322.9L23.8,314.7L23.1,306.5L22.8,298.3M71.4,334.3L72.5,336.1L73.7,339.4L74.7,340.8L74.8,342.1L74.5,342.9L73.2,341.3L72.9,342.1L73.9,344.2L74.0,345.4L73.5,346.0L74.0,348.4L73.9,356.8L74.8,367.9L73.0,368.5L71.3,369.7L67.1,368.0L65.8,366.5L64.6,364.0L62.7,361.8L61.7,359.8L61.4,357.8L62.4,357.3L62.0,356.4L62.5,354.3L62.1,352.5L60.0,349.4L58.9,346.8L59.4,345.3L59.2,343.5L60.5,343.4L62.7,342.3L63.9,342.3L65.0,340.7L66.8,339.0L67.3,337.6L66.6,336.4L67.8,336.7L68.9,334.8L68.6,333.1L69.2,331.9ZM152.1,434.3L154.1,434.6L154.3,435.1L154.1,436.3L151.2,436.5L150.7,435.1L150.6,433.5ZM326.7,338.9L328.6,337.8L329.3,339.0L330.4,340.1L329.9,341.3L330.1,345.1L330.7,345.4L330.8,346.6L330.9,347.8L330.3,349.3L330.7,351.2L333.2,352.6L336.2,355.2L335.6,355.8L336.6,357.6L336.8,360.6L338.0,360.0L338.6,361.2L339.4,360.8L338.9,363.7L340.9,366.5L342.1,368.8L342.0,371.0L340.6,374.3L340.8,376.7L339.6,379.2L337.0,383.0L336.3,384.6L334.9,386.6L332.8,389.1L330.4,390.5L327.1,394.0L325.3,396.4L323.8,397.8L321.0,401.8L320.7,402.7L318.9,403.7L316.4,403.8L313.8,404.9L310.5,407.2L309.2,406.0L308.1,405.5L309.1,404.0L307.7,404.6L304.9,406.6L302.3,405.4L301.1,405.2L299.3,404.4L298.5,402.6L299.3,398.0L296.2,397.6L297.4,396.3L297.6,394.2L295.8,396.2L293.6,396.7L295.3,395.1L296.2,393.5L297.5,392.1L298.0,390.1L295.3,392.5L293.6,393.4L292.0,395.6L290.6,394.5L291.1,393.0L290.2,391.0L289.3,389.9L289.9,389.3L287.4,387.6L285.7,387.5L283.8,386.2L279.5,386.4L276.0,388.2L273.3,388.3L271.1,388.2L268.3,389.6L266.1,390.2L265.4,391.7L264.3,392.8L260.8,393.1L258.9,392.6L255.5,393.1L253.9,394.6L253.3,394.4L250.8,396.1L247.6,396.0L245.4,394.2L244.2,393.7L244.4,392.1L245.6,391.7L246.1,391.1L246.6,388.2L246.6,386.5L245.6,383.7L245.4,382.1L245.6,380.5L244.8,378.7L244.8,377.9L243.8,376.7L243.7,374.5L242.5,372.3L242.2,371.2L243.2,372.4L242.6,369.8L243.8,370.6L244.4,371.7L244.5,370.2L243.4,368.0L243.2,367.1L242.7,366.3L243.1,364.7L243.7,364.0L244.1,362.6L243.9,361.0L245.1,359.0L245.2,361.1L246.4,359.2L248.6,358.3L250.0,357.1L252.0,356.0L253.2,355.8L253.9,356.2L256.1,355.1L257.7,354.8L258.1,354.2L258.8,353.9L260.3,354.0L263.1,353.2L264.7,352.0L265.5,350.5L267.2,349.0L267.6,346.4L269.7,344.1L270.6,346.5L271.8,345.9L271.0,344.6L272.0,343.2L273.1,343.8L273.6,341.7L275.3,340.3L276.0,339.2L277.4,338.7L277.5,338.0L278.7,338.3L278.8,337.6L281.4,336.8L283.2,338.1L284.6,339.8L287.9,340.0L287.5,338.5L289.1,336.3L290.4,335.5L290.0,334.8L291.4,333.3L293.1,332.2L294.5,332.6L296.9,332.1L296.9,330.6L295.0,329.7L296.5,329.3L298.3,330.0L299.6,331.2L301.8,331.9L302.6,331.6L304.2,332.4L305.9,331.6L306.9,331.9L307.6,331.4L308.7,332.7L307.8,334.2L306.6,335.3L305.7,335.4L305.8,336.5L303.7,339.3L303.8,340.1L305.7,341.7L307.6,342.5L310.5,345.2L311.3,345.2L312.5,345.9L312.8,346.7L315.1,347.7L317.1,346.7L320.5,340.2L320.3,338.9L320.7,338.1L320.6,336.5L321.3,334.4L321.9,333.8L321.6,332.9L323.2,329.9L323.3,329.1L324.5,328.0L325.1,329.4L325.1,331.1L325.7,331.5L325.6,332.7L326.4,334.1L326.4,335.7L326.1,336.7ZM307.9,413.1L311.0,412.2L312.2,412.4L311.3,415.6L310.3,416.6L309.3,418.8L308.9,418.1L306.8,420.0L305.2,419.7L304.7,417.4L305.0,415.5L304.5,413.1L304.9,411.8L306.2,412.1ZM296.7,300.2L298.1,299.3L302.6,300.4L303.0,301.5L303.7,306.0L306.5,307.7L308.9,304.7L312.2,303.0L314.7,303.0L319.1,305.0L322.0,305.5L326.8,307.4L331.9,309.0L335.2,311.9L335.5,313.5L340.0,315.2L340.6,316.7L338.0,317.0L338.4,318.9L340.7,320.7L342.1,323.6L343.7,323.6L343.5,324.8L345.5,325.3L344.6,325.8L347.4,327.0L347.0,327.8L345.1,328.0L344.5,327.2L339.5,326.5L336.2,323.2L335.1,320.8L331.6,319.5L329.2,320.4L327.4,321.3L327.5,323.3L325.3,324.3L323.8,323.8L320.9,323.7L318.7,321.4L315.9,320.9L315.2,321.6L311.7,321.7L313.0,319.5L314.8,318.7L314.3,315.6L313.2,313.3L307.9,310.9L305.6,310.7L301.5,308.1L300.6,309.5L299.6,309.7L299.0,308.7L299.0,307.5L296.9,306.1L299.9,305.1L301.9,305.2L301.7,304.4L297.6,304.4L296.5,302.8L294.0,302.2L292.9,300.9ZM354.7,311.6L354.3,309.9L353.7,308.8L350.9,306.7L349.0,305.9L349.8,305.2L353.3,307.3L355.4,309.4L355.6,310.8ZM353.3,311.8L352.2,313.5L350.7,313.8L350.2,314.6L347.1,315.9L345.7,315.9L342.0,314.3L342.2,313.4L344.7,313.8L346.3,313.6L346.8,312.3L347.2,312.2L347.3,313.7L348.9,313.5L349.8,312.5L351.4,311.5L351.2,309.9L352.9,309.8L353.4,310.3ZM256.5,298.3L256.6,300.5L253.9,302.4L253.8,305.2L252.7,309.4L252.3,308.5L249.1,309.7L248.0,308.0L246.1,307.9L244.7,307.0L241.4,308.0L240.3,306.6L238.5,306.8L236.2,306.4L235.8,302.7L234.4,301.9L233.1,299.5L232.9,298.3M218.3,298.3L217.3,300.2L218.9,301.2L219.9,301.3L220.4,303.2L221.4,304.8L223.4,305.0L224.8,306.8L224.0,310.3L223.9,314.6L220.8,314.6L218.5,312.3L214.9,310.0L213.7,308.3L211.6,306.1L208.1,300.1L206.2,298.3M237.0,317.5L237.6,316.3L242.7,317.6L243.7,319.4L247.8,320.0L251.2,321.6L248.0,322.7L245.0,321.6L239.6,321.4L237.1,320.9L233.9,319.9L231.8,319.6L230.7,319.9L225.6,318.8L225.2,317.6L222.7,317.4L224.6,314.7L227.9,314.9L230.2,316.0L231.3,316.2L231.7,317.2ZM263.9,298.3L263.6,299.7L266.1,302.2L267.7,300.9L272.9,300.0L272.6,301.3L271.4,300.8L270.2,302.5L267.7,303.6L270.3,307.2L269.8,308.1L272.2,311.3L272.1,313.2L270.6,314.0L269.6,313.0L271.0,310.7L268.2,311.8L267.5,311.0L267.9,309.9L265.9,308.3L266.2,305.6L264.3,306.4L264.5,313.7L262.8,314.1L261.6,313.3L262.4,310.7L262.1,308.0L260.9,308.0L260.0,306.1L261.2,304.3L261.6,302.0L262.9,298.3M285.9,298.3L285.8,298.9L286.9,300.4L286.1,300.8L285.0,299.0L284.8,298.3M293.6,309.0L291.3,307.9L289.0,307.6L287.4,307.8L285.5,307.7L286.2,306.2L289.6,306.1L292.6,306.9ZM282.6,308.8L280.7,308.3L280.2,307.1L283.0,307.0L283.6,307.9ZM277.1,322.4L279.5,321.8L281.4,321.7L282.3,321.3L283.3,321.7L282.2,322.4L276.9,324.5L275.0,326.6L272.6,327.2L272.3,326.8L272.6,325.9L273.9,324.2L276.7,323.1ZM270.6,322.4L266.4,323.2L262.8,322.8L262.8,321.8L265.1,321.2L266.7,322.1L268.6,321.9L271.1,320.8ZM263.6,326.9L261.5,326.0L260.1,324.9L262.7,324.4L265.0,326.1ZM260.0,321.4L260.6,322.6L255.5,323.5L254.0,323.5L255.0,321.9L256.5,321.8L257.3,320.9L258.2,321.6ZM249.3,320.9L251.2,321.7L249.8,322.8L248.1,321.7ZM253.9,321.4L253.6,323.1L252.0,323.0L252.0,321.7ZM125.1,481.6L126.9,481.9L128.3,482.6L130.1,483.2L131.2,483.0L134.7,484.3L135.4,483.8L134.8,482.9L135.5,482.5L136.1,481.8L138.2,481.1L140.0,479.6L141.5,479.9L142.3,478.5L143.7,478.5L144.4,478.0L143.9,477.3L145.4,476.2L147.7,475.7L150.6,476.0L152.2,476.7L153.1,477.6L156.2,478.9L158.0,479.2L160.9,480.4L162.3,480.5L163.1,480.1L163.7,479.2L168.2,480.2L171.0,480.3L173.4,482.6L173.7,483.1L174.2,484.1L173.3,484.6L172.8,485.4L173.6,486.2L174.9,486.1L175.3,487.0L175.2,488.5L176.6,489.2L178.1,489.4L179.2,489.0L179.3,487.5L180.0,486.2L179.9,484.5L184.4,483.6L184.6,482.0L185.2,481.2L187.2,480.2L187.7,479.5L189.2,478.8L190.7,479.0L193.1,478.5L194.7,478.6L195.5,478.0L195.8,476.6L197.4,478.2L198.7,478.6L200.1,478.8L201.3,478.5L204.1,478.8L204.9,478.5L206.1,478.7L207.2,479.2L211.2,478.5L212.6,478.9L216.9,475.1L218.9,476.0L221.6,478.2L224.2,478.2L227.3,477.6L229.5,476.4L231.1,476.3L232.3,475.8L233.3,476.3L234.8,477.6L236.3,477.6L237.1,478.1L238.7,478.7L240.3,478.9L241.8,478.7L244.3,477.3L245.6,477.2L248.1,477.7L249.6,477.3L250.8,477.3L253.2,477.8L256.3,477.1L259.4,477.0L262.1,476.6L263.6,474.6L264.2,475.2L263.9,476.2L264.1,477.8L265.0,478.2L273.0,477.9L276.3,478.1L276.8,478.8L275.9,479.6L276.3,480.3L278.4,481.3L282.4,482.4L284.2,482.3L276.2,490.4L268.5,497.0L260.0,503.1L251.8,507.7L243.9,511.2L238.5,513.0L234.4,514.1L227.0,515.4L218.2,516.0L205.7,515.4L198.4,514.5L192.3,513.5L179.5,510.4L168.7,506.8L157.3,502.0L145.5,495.8L134.8,489.0L129.2,484.9ZM776.4,298.3L775.9,309.4L774.5,320.5L772.2,331.6L768.9,342.7L764.7,353.8L759.7,364.9L753.7,376.1L747.0,387.2L741.4,395.5L740.1,394.3L738.5,394.4L738.1,392.9L737.0,394.3L738.3,396.7L736.6,398.7L737.2,399.9L736.1,401.2L731.3,404.8L727.0,406.3L722.2,406.9L720.0,406.6L719.3,408.3L717.4,410.4L716.7,411.8L714.9,412.8L712.6,413.2L711.1,412.1L709.9,412.9L709.0,415.6L710.0,416.5L711.5,415.6L711.5,417.0L709.2,417.9L706.7,419.6L705.1,422.3L703.9,423.8L702.0,423.8L699.7,425.2L698.1,427.2L699.1,429.2L700.7,429.8L698.7,432.1L695.6,433.6L692.6,436.7L690.3,437.8L688.9,439.0L688.0,441.7L688.3,443.2L686.0,443.0L682.5,444.6L680.8,447.0L680.0,447.1L678.5,446.2L677.4,444.4L675.9,443.0L676.1,441.3L677.5,439.8L677.4,438.1L679.3,433.6L681.3,431.0L684.3,428.9L681.6,428.2L684.6,425.8L687.2,421.2L689.0,422.2L692.4,416.5L691.3,415.8L689.3,419.2L688.2,418.8L692.6,411.0L693.5,409.7L695.6,407.8L696.6,405.1L698.2,402.0L699.2,401.9L707.0,392.9L710.2,388.7L711.7,384.6L713.5,382.3L714.9,378.8L717.9,375.4L723.8,364.2L727.0,358.0L728.4,353.4L729.1,349.5L726.9,347.8L727.0,346.7L722.5,343.9L718.4,340.9L716.7,339.1L716.1,336.8L716.7,336.0L715.1,332.4L711.4,321.7L710.4,320.4L709.8,318.3L707.8,316.5L705.9,315.4L706.9,314.1L705.7,311.5L706.7,309.5L709.0,307.7L710.6,305.7L710.0,304.4L708.9,305.8L707.3,304.5L707.9,303.7L707.5,301.2L708.5,300.8L709.0,299.0L709.5,298.3M687.0,445.1L686.7,447.0L688.1,448.5L690.1,449.2L688.5,450.4L686.7,450.6L686.4,449.7L683.5,449.6L681.4,451.2L680.6,450.4L679.0,450.1L677.6,448.7L676.5,447.3L675.6,444.4L676.8,445.0L678.4,446.7L680.3,447.6L681.9,446.4L683.5,444.7L685.8,443.6L687.0,443.9ZM705.3,440.3L706.4,441.0L708.2,439.9L709.0,441.1L707.8,442.0L704.7,442.8L704.5,441.9L702.2,443.1L702.0,441.9ZM459.7,411.6L459.5,413.5L458.4,414.6L457.7,413.9L456.7,413.5L456.7,411.2L455.0,409.6L452.0,408.5L451.4,407.5L452.3,406.5L451.3,404.4L450.1,402.6L448.0,400.7L447.7,400.2L442.6,396.6L440.5,394.6L441.2,394.4L443.4,396.0L445.6,396.7L447.8,399.2L451.2,402.1L450.1,400.2L451.5,401.0L453.2,403.1L455.5,404.0L457.1,404.2L457.7,403.1L459.1,403.5L460.0,405.9L460.3,407.6L458.6,407.5L458.6,408.4L459.5,409.6ZM450.3,418.3L450.9,416.9L450.8,414.8L451.3,414.1L450.9,412.6L451.6,411.3L453.8,413.6L454.8,412.5L455.9,413.7L456.4,414.8L455.8,418.1L455.2,419.2L456.6,420.6L455.1,420.6L453.8,421.6L454.5,426.2L453.0,428.1L451.1,428.1L449.3,427.2L447.0,427.0L446.1,426.0L446.1,424.0L447.2,421.3L448.3,420.8ZM362.4,313.8L364.0,315.6L365.5,316.5L365.2,317.3L364.5,317.6L363.1,316.5L361.6,314.7L360.7,312.6L361.1,312.3L361.5,313.2ZM385.4,328.5L383.5,328.5L382.1,326.7L384.4,327.5ZM379.5,325.9L377.8,325.6L377.1,325.2L377.0,324.0L378.9,324.5L380.0,325.1L380.6,325.8ZM382.4,325.5L379.8,323.1L378.9,321.5L379.9,321.5L381.3,323.7L382.7,325.0ZM377.2,322.1L374.8,320.9L371.9,319.0L372.3,318.7L376.2,320.6L377.0,321.5ZM369.5,318.9L368.2,318.3L367.5,317.7L366.9,317.1L366.9,316.7L370.1,318.8ZM403.9,344.6L402.6,343.4L402.4,342.6L404.6,344.2ZM402.4,342.2L401.6,341.8L401.1,342.0L400.5,341.2L399.8,339.1L401.3,339.9ZM406.9,358.8L408.8,360.1L408.1,360.8L403.9,358.8L401.6,357.3L399.0,355.3L398.3,354.4L399.4,354.4L401.3,355.4ZM434.6,347.5L434.6,348.9L433.1,349.3L431.5,348.9L430.9,347.7L431.6,346.8L433.0,347.1L433.5,346.6ZM434.2,345.7L433.5,344.7L435.5,344.0L436.9,343.1L437.2,344.5ZM651.5,487.6L649.2,489.2L645.7,489.8L644.2,489.8L645.7,489.0L642.3,489.6L642.1,489.0L642.9,488.2L645.0,487.4L646.1,487.1L647.5,487.2L649.0,486.1L651.5,483.7L653.3,482.7L654.8,482.4L654.7,483.2L653.7,484.9ZM616.2,488.7L616.2,489.9L615.4,489.7L610.9,489.8L609.9,489.5L609.7,488.6L610.6,488.3L613.6,488.7ZM588.1,492.1L589.5,491.8L588.8,492.5L587.7,493.0L586.1,492.8L585.1,492.1L585.4,491.5ZM583.5,492.6L581.4,492.3L579.9,491.8L580.7,491.3ZM633.4,504.5L631.6,505.2L630.5,505.0L628.5,505.1L628.7,504.6L629.3,504.0L632.4,504.3L636.1,503.0L635.5,503.7ZM551.8,503.0L547.6,501.3L547.5,500.6L549.4,500.9L550.9,501.4L553.2,502.8ZM475.3,481.7L481.1,483.4L484.8,483.9L486.6,484.7L490.7,485.9L492.6,486.3L498.6,486.5L504.0,487.6L505.6,488.2L506.5,489.0L506.8,489.7L508.7,492.1L507.6,492.4L508.0,493.1L507.2,493.5L507.9,494.3L508.6,495.6L510.4,497.0L513.1,498.5L518.0,500.5L520.2,500.8L522.0,501.5L520.4,502.1L518.9,502.2L520.3,503.2L524.3,505.2L533.1,507.4L547.2,510.3L547.8,509.9L552.0,510.7L550.5,509.9L552.6,510.3L552.1,509.9L554.5,510.5L553.9,509.9L555.1,509.6L558.6,510.5L562.8,511.3L565.3,511.6L566.2,511.2L570.4,511.9L572.3,511.1L571.9,510.5L567.5,510.1L566.4,509.6L564.5,509.3L562.2,506.9L557.8,505.4L559.7,505.5L561.3,505.2L562.8,505.8L564.6,504.7L564.9,504.2L564.1,503.5L561.2,502.5L555.8,502.0L551.8,500.3L549.7,498.2L551.7,499.0L554.4,498.5L555.8,499.3L557.2,499.1L559.1,498.3L559.9,497.7L561.3,497.5L560.2,496.1L560.2,495.4L561.3,495.1L562.3,495.7L564.7,494.9L567.6,494.7L571.2,493.4L572.9,493.7L574.4,493.4L575.9,493.7L577.4,493.7L578.8,493.4L581.9,493.8L586.6,493.8L588.1,493.7L590.7,492.9L592.0,493.3L593.4,492.9L594.8,492.2L596.0,494.2L597.4,493.6L598.4,494.3L599.7,494.5L600.7,495.1L603.8,494.6L605.4,494.7L607.9,495.3L609.0,494.5L608.5,493.2L607.2,493.0L606.9,492.3L607.4,490.1L608.1,490.3L611.2,490.3L611.9,490.6L613.1,491.3L613.2,491.9L614.7,492.1L619.7,491.2L620.5,491.6L622.1,491.5L624.3,490.0L624.6,490.9L625.6,491.2L627.2,491.0L627.4,491.8L630.0,492.1L630.9,492.5L633.7,491.1L634.0,491.9L635.8,491.7L636.5,492.1L636.5,492.7L638.2,492.6L641.6,491.6L647.0,490.9L650.1,489.8L651.4,488.9L652.3,488.1L654.4,485.0L655.2,484.1L656.2,483.3L659.1,481.6L660.2,480.8L661.5,479.0L663.2,478.0L674.2,473.0L675.7,472.9L677.4,472.2L680.3,471.5L683.6,470.2L685.0,469.9L685.3,470.5L684.0,471.3L680.6,472.4L679.9,472.1L678.5,472.3L675.3,473.4L673.9,474.1L672.8,474.9L672.0,475.8L672.0,476.5L670.4,477.1L668.9,477.2L664.1,479.6L663.0,480.4L662.5,481.3L662.5,481.9L663.0,482.4L663.3,483.1L661.3,486.2L656.0,491.2L654.4,492.2L651.0,493.7L649.1,493.9L646.1,495.2L637.9,497.0L636.0,497.8L629.3,497.9L628.6,498.6L629.8,499.1L630.0,499.4L629.7,500.0L627.9,500.6L626.6,500.4L624.6,500.9L622.6,502.2L622.8,502.8L622.0,503.4L622.0,504.0L623.2,504.3L623.9,504.7L624.4,505.7L625.7,506.0L626.5,506.4L626.7,506.9L626.7,507.4L624.2,508.6L627.6,507.9L619.0,510.6L609.2,513.1L600.4,514.6L588.7,515.7L581.0,516.0L572.1,515.7L558.6,514.6L551.7,513.5L542.6,511.8L529.7,508.5L522.7,506.2L514.1,503.1L500.4,497.0L493.3,493.3L484.9,488.4L475.5,482.3ZM792.5,298.3L792.8,298.5L797.7,298.9L797.8,301.7L799.9,299.9L808.1,302.6L809.5,304.2L809.1,305.8L812.3,304.9L817.8,306.4L822.0,306.3L826.2,308.6L829.9,311.7L832.1,312.5L834.5,312.6L835.5,313.5L837.3,318.7L836.7,323.4L835.5,325.2L832.1,329.1L830.8,332.2L829.2,334.6L828.5,334.7L828.1,336.7L829.3,342.0L829.6,348.1L829.0,349.2L829.5,353.0L827.8,356.6L828.2,359.5L826.4,360.7L826.3,362.4L823.6,362.4L819.8,363.4L818.5,364.7L815.9,365.5L813.7,367.7L812.7,370.5L813.1,372.5L814.2,374.1L814.9,376.9L815.0,378.3L813.9,379.8L813.6,384.7L812.6,387.0L811.7,388.3L812.0,390.9L811.3,392.5L811.3,394.3L809.6,395.8L807.6,395.2L806.4,395.5L800.1,384.4L795.8,376.1L792.0,367.7L788.5,359.4L785.4,351.0L781.3,337.2L778.7,324.6L777.6,317.7L776.9,310.8L776.4,298.3M1027.6,298.3L1027.2,314.7L1025.7,332.5L1023.2,350.3L1019.7,368.1L1017.7,369.0L1016.3,370.1L1016.9,371.4L1014.4,377.2L1013.5,378.5L1010.9,380.3L1006.7,385.2L1001.3,389.7L999.2,391.0L996.6,392.1L995.3,392.2L994.9,393.0L993.6,392.6L992.3,393.1L989.9,392.6L988.4,392.9L987.5,392.8L984.9,393.9L982.9,394.3L981.3,395.4L980.2,395.4L979.4,394.4L978.7,394.4L977.7,393.5L977.7,391.1L977.2,389.3L978.0,388.8L978.2,386.6L974.7,378.0L973.1,375.9L972.3,373.9L971.1,364.8L971.3,361.5L971.0,360.0L968.9,356.5L967.2,351.4L965.2,348.7L965.0,344.8L965.5,342.3L966.4,339.8L966.7,338.6L967.6,336.1L968.3,334.9L970.8,331.9L971.2,329.8L971.1,328.2L969.6,325.5L969.0,323.8L969.2,323.3L970.1,322.1L968.8,317.6L967.4,315.8L967.7,315.3L966.6,312.3L964.3,309.4L961.5,306.5L959.7,304.2L958.0,301.3L958.0,300.4L959.3,298.8L959.4,298.3M901.1,501.0L905.4,503.7L904.3,504.6L902.5,505.3L900.5,505.2L898.4,504.6L897.3,504.0L898.2,503.5L895.7,500.3L897.0,499.9ZM904.0,507.7L904.1,507.2L905.1,506.4L906.9,506.4L911.1,506.9L910.4,506.3L910.7,505.8L912.6,505.8L914.5,505.1L917.2,504.6L918.0,504.2L915.8,503.0L915.2,502.4L910.5,502.7L908.1,500.8L908.1,500.4L910.1,499.6L911.4,498.5L911.7,497.8L914.5,497.1L917.3,496.8L921.4,495.0L922.8,493.8L922.7,493.0L921.4,492.6L921.4,491.8L921.9,491.1L924.0,490.3L925.0,489.6L925.7,488.9L926.0,487.9L926.7,487.4L928.2,487.5L928.9,488.2L930.4,488.2L930.3,487.5L930.7,486.7L932.1,486.9L932.6,487.6L934.0,487.8L937.1,487.2L938.5,487.3L939.1,488.1L940.4,487.4L947.0,485.7L948.2,485.3L949.0,484.5L949.9,485.0L951.2,484.8L952.6,486.5L954.1,486.1L954.8,485.3L956.2,484.7L957.8,484.8L958.2,485.6L959.4,484.8L960.8,484.5L963.7,484.5L966.4,484.9L967.3,486.2L968.8,485.8L973.2,485.7L980.2,484.0L981.5,483.4L983.8,481.7L980.2,488.0L976.4,493.9L972.2,499.4L968.4,503.7L964.2,507.6L960.4,510.4L956.2,512.9L952.3,514.5L947.2,515.7L943.9,516.0L937.3,515.7L930.1,515.0L922.1,513.6L915.4,511.9L907.6,509.3L904.0,507.9ZM462.6,122.7L462.9,121.9L463.2,121.1L463.5,120.3L463.8,119.5L464.1,118.7L464.4,117.9L464.8,117.1L465.1,116.3L465.4,115.5L465.7,114.7L466.1,114.0M467.8,110.0L467.9,109.9L467.9,109.8L468.0,109.7L468.1,109.5L468.1,109.4L468.2,109.3L468.2,109.1L468.3,109.0L468.4,108.9L468.4,108.8L468.5,108.6M581.0,516.0L575.1,515.8L571.7,515.4L568.8,515.0L566.2,514.6L563.8,514.1L561.6,513.6L559.5,513.1L557.5,512.5L555.6,511.9L553.8,511.3L552.0,510.7M437.2,344.5L437.2,344.3L437.2,344.2L437.1,344.1L437.1,344.0L437.1,343.8L437.0,343.7L437.0,343.6L437.0,343.5L436.9,343.4L436.9,343.2L436.9,343.1" fill="none" stroke="#000" stroke-width="2.3" stroke-linejoin="round" stroke-linecap="round"/>
</g>
<g>
<circle cx="556.5" cy="489.2" r="8.6" fill="rgb(0,255,255)"/>
<circle cx="556.0" cy="489.3" r="8.6" fill="rgb(7,248,255)"/>
<circle cx="555.5" cy="489.5" r="8.6" fill="rgb(13,242,255)"/>
<circle cx="555.0" cy="489.6" r="8.6" fill="rgb(20,235,255)"/>
<circle cx="554.4" cy="489.7" r="8.6" fill="rgb(26,229,255)"/>
<circle cx="553.9" cy="489.9" r="8.6" fill="rgb(33,222,255)"/>
<circle cx="553.4" cy="490.0" r="8.6" fill="rgb(39,216,255)"/>
<circle cx="552.7" cy="490.2" r="8.6" fill="rgb(46,209,255)"/>
<circle cx="552.0" cy="490.4" r="8.6" fill="rgb(52,203,255)"/>
<circle cx="551.3" cy="490.5" r="8.6" fill="rgb(59,196,255)"/>
<circle cx="550.7" cy="490.7" r="8.6" fill="rgb(65,190,255)"/>
<circle cx="550.0" cy="490.9" r="8.6" fill="rgb(72,183,255)"/>
<circle cx="549.2" cy="491.0" r="8.6" fill="rgb(78,177,255)"/>
<circle cx="548.4" cy="491.1" r="8.6" fill="rgb(85,170,255)"/>
<circle cx="547.5" cy="491.2" r="8.6" fill="rgb(92,163,255)"/>
<circle cx="546.7" cy="491.3" r="8.6" fill="rgb(98,157,255)"/>
<circle cx="545.8" cy="491.4" r="8.6" fill="rgb(105,150,255)"/>
<circle cx="545.0" cy="491.5" r="8.6" fill="rgb(111,144,255)"/>
<circle cx="544.1" cy="491.6" r="8.6" fill="rgb(118,137,255)"/>
<circle cx="543.1" cy="491.5" r="8.6" fill="rgb(124,131,255)"/>
<circle cx="542.2" cy="491.3" r="8.6" fill="rgb(131,124,255)"/>
<circle cx="541.3" cy="491.2" r="8.6" fill="rgb(137,118,255)"/>
<circle cx="540.3" cy="491.1" r="8.6" fill="rgb(144,111,255)"/>
<circle cx="539.4" cy="491.0" r="8.6" fill="rgb(150,105,255)"/>
<circle cx="538.4" cy="490.8" r="8.6" fill="rgb(157,98,255)"/>
<circle cx="537.4" cy="490.6" r="8.6" fill="rgb(163,92,255)"/>
<circle cx="536.3" cy="490.3" r="8.6" fill="rgb(170,85,255)"/>
<circle cx="535.3" cy="490.1" r="8.6" fill="rgb(177,78,255)"/>
<circle cx="534.3" cy="489.8" r="8.6" fill="rgb(183,72,255)"/>
<circle cx="533.3" cy="489.6" r="8.6" fill="rgb(190,65,255)"/>
<circle cx="532.2" cy="489.3" r="8.6" fill="rgb(196,59,255)"/>
<circle cx="531.2" cy="489.1" r="8.6" fill="rgb(203,52,255)"/>
<circle cx="530.1" cy="488.8" r="8.6" fill="rgb(209,46,255)"/>
<circle cx="529.0" cy="488.4" r="8.6" fill="rgb(216,39,255)"/>
<circle cx="527.9" cy="488.1" r="8.6" fill="rgb(222,33,255)"/>
<circle cx="526.8" cy="487.8" r="8.6" fill="rgb(229,26,255)"/>
<circle cx="525.6" cy="487.5" r="8.6" fill="rgb(235,20,255)"/>
<circle cx="524.5" cy="487.2" r="8.6" fill="rgb(242,13,255)"/>
<circle cx="523.4" cy="486.9" r="8.6" fill="rgb(248,7,255)"/>
<circle cx="522.3" cy="486.6" r="8.6" fill="rgb(255,0,255)"/>
</g>
<path d="M218.2,516.0L177.1,509.7L153.7,500.2L134.7,488.8L118.4,476.1L104.3,462.2L92.0,447.4L81.3,431.8L71.9,415.5L60.1,398.7L49.0,382.0L39.7,365.2L32.4,348.5L27.1,331.7L23.9,315.0L22.8,298.2L23.4,281.5L25.2,264.8L28.3,248.0L32.4,231.3L37.8,214.5L44.1,197.8L50.9,181.0L56.2,164.7L62.4,149.1L69.4,134.3L77.5,120.4L86.7,107.7L97.6,96.3L111.0,86.8L134.4,80.5L134.4,80.5L153.0,83.0L163.8,86.8L172.7,91.3L180.5,96.3L187.6,101.8L194.1,107.7L200.1,113.9L205.7,120.4L210.9,127.2L215.7,134.3L220.3,141.6L224.6,149.1L228.5,156.8L232.2,164.7L235.7,172.8L238.9,181.0L242.9,189.4L247.3,197.8L251.5,206.1L255.3,214.5L258.8,222.9L261.9,231.3L264.7,239.6L267.2,248.0L269.2,256.4L270.9,264.8L272.3,273.1L273.2,281.5L273.8,289.9L274.0,298.2L274.0,298.2L274.3,289.9L275.2,281.5L276.7,273.1L278.9,264.8L281.6,256.4L284.9,248.0L288.8,239.6L293.3,231.3L298.3,222.9L303.9,214.5L310.0,206.1L316.6,197.8L323.8,189.4L330.1,181.0L335.3,172.8L340.8,164.7L346.7,156.8L353.1,149.1L359.9,141.6L367.2,134.3L375.0,127.2L383.3,120.4L392.2,113.9L401.8,107.7L412.2,101.8L423.6,96.3L436.1,91.3L450.4,86.8L467.6,83.0L497.3,80.5L497.3,80.5L523.2,83.0L538.3,86.8L550.8,91.3L561.8,96.3L571.7,101.8L580.8,107.7L589.2,113.9L597.0,120.4L604.3,127.2L611.1,134.3L617.5,141.6L623.4,149.1L629.0,156.8L634.2,164.7L639.1,172.8L643.5,181.0L649.1,189.4L655.4,197.8L661.1,206.1L666.5,214.5L671.4,222.9L675.8,231.3L679.7,239.6L683.1,248.0L686.0,256.4L688.4,264.8L690.3,273.1L691.6,281.5L692.4,289.9L692.7,298.2L692.7,298.2L692.9,289.9L693.7,281.5L695.1,273.1L696.9,264.8L699.3,256.4L702.2,248.0L705.6,239.6L709.6,231.3L714.0,222.9L718.8,214.5L724.2,206.1L730.0,197.8L736.2,189.4L741.8,181.0L746.3,172.8L751.1,164.7L756.3,156.8L761.9,149.1L767.8,141.6L774.2,134.3L781.0,127.2L788.3,120.4L796.1,113.9L804.5,107.7L813.6,101.8L823.5,96.3L834.5,91.3L847.0,86.8L862.1,83.0L888.0,80.5L888.0,80.5L917.4,86.8L934.1,96.3L947.7,107.7L959.3,120.4L969.4,134.3L978.2,149.1L985.8,164.7L992.5,181.0L1001.0,197.8L1008.9,214.5L1015.5,231.3L1020.8,248.0L1024.6,264.8L1026.8,281.5L1027.6,298.2L1027.1,315.0L1025.8,331.7L1023.5,348.5L1020.4,365.2L1016.4,382.0L1011.6,398.7L1006.5,415.5L1002.6,431.8L997.9,447.4L992.7,462.2L986.6,476.1L979.7,488.8L971.5,500.2L961.5,509.7L943.9,516.0L943.9,516.0L921.6,513.5L908.7,509.7L898.0,505.2L888.6,500.2L880.1,494.7L872.3,488.8L865.1,482.6L858.4,476.1L852.1,469.3L846.3,462.2L840.8,454.9L835.7,447.4L831.0,439.7L826.5,431.8L822.4,423.7L818.5,415.5L813.7,407.1L808.4,398.7L803.4,390.4L798.8,382.0L794.7,373.6L790.9,365.2L787.5,356.9L784.6,348.5L782.1,340.1L780.1,331.7L778.5,323.4L777.3,315.0L776.6,306.6L776.4,298.2L776.4,298.2L776.1,306.6L775.3,315.0L774.0,323.4L772.1,331.7L769.7,340.1L766.8,348.5L763.4,356.9L759.5,365.2L755.1,373.6L750.2,382.0L744.9,390.4L739.1,398.7L732.9,407.1L727.3,415.5L722.8,423.7L717.9,431.8L712.8,439.7L707.2,447.4L701.2,454.9L694.9,462.2L688.0,469.3L680.8,476.1L672.9,482.6L664.5,488.8L655.5,494.7L645.5,500.2L634.6,505.2L622.1,509.7L607.0,513.5L581.0,516.0L581.0,516.0L551.4,513.5L534.1,509.7L519.8,505.2L507.3,500.2L496.0,494.7L485.6,488.8L476.0,482.6L467.0,476.1L458.7,469.3L450.9,462.2L443.7,454.9L436.8,447.4L430.5,439.7L424.5,431.8L419.0,423.7L413.9,415.5L407.5,407.1L400.4,398.7L393.8,390.4L387.6,382.0L382.1,373.6L377.0,365.2L372.6,356.9L368.7,348.5L365.3,340.1L362.6,331.7L360.5,323.4L359.0,315.0L358.0,306.6L357.7,298.2L357.7,298.2L357.5,306.6L357.0,315.0L356.0,323.4L354.7,331.7L353.0,340.1L350.9,348.5L348.5,356.9L345.7,365.2L342.5,373.6L339.0,382.0L335.2,390.4L331.1,398.7L326.6,407.1L322.6,415.5L319.4,423.7L316.0,431.8L312.3,439.7L308.3,447.4L304.0,454.9L299.5,462.2L294.6,469.3L289.4,476.1L283.8,482.6L277.8,488.8L271.3,494.7L264.3,500.2L256.4,505.2L247.5,509.7L236.7,513.5L218.2,516.0Z" fill="none" stroke="#000" stroke-width="1.67" stroke-linejoin="miter"/>
<rect x="22.8" y="612.0" width="1004.8" height="50.6" fill="url(#cool)" stroke="#000" stroke-width="1.67"/>
<rect x="122" y="662.6" width="2" height="7.6" fill="#000"/>
<text x="122.9" y="692.6" font-size="20.83" text-anchor="middle" letter-spacing="-0.22">2017.25</text>
<rect x="236" y="662.6" width="2" height="7.6" fill="#000"/>
<text x="236.9" y="692.6" font-size="20.83" text-anchor="middle" letter-spacing="-0.22">2017.50</text>
<rect x="351" y="662.6" width="2" height="7.6" fill="#000"/>
<text x="351.9" y="692.6" font-size="20.83" text-anchor="middle" letter-spacing="-0.22">2017.75</text>
<rect x="465" y="662.6" width="2" height="7.6" fill="#000"/>
<text x="465.9" y="692.6" font-size="20.83" text-anchor="middle" letter-spacing="-0.22">2018.00</text>
<rect x="579" y="662.6" width="2" height="7.6" fill="#000"/>
<text x="579.9" y="692.6" font-size="20.83" text-anchor="middle" letter-spacing="-0.22">2018.25</text>
<rect x="694" y="662.6" width="2" height="7.6" fill="#000"/>
<text x="694.9" y="692.6" font-size="20.83" text-anchor="middle" letter-spacing="-0.22">2018.50</text>
<rect x="808" y="662.6" width="2" height="7.6" fill="#000"/>
<text x="808.9" y="692.6" font-size="20.83" text-anchor="middle" letter-spacing="-0.22">2018.75</text>
<rect x="922" y="662.6" width="2" height="7.6" fill="#000"/>
<text x="922.9" y="692.6" font-size="20.83" text-anchor="middle" letter-spacing="-0.22">2019.00</text>
<text x="525.2" y="721.6" font-size="20.83" text-anchor="middle" letter-spacing="-0.12">Decimal Year</text>
</svg></body></html>
